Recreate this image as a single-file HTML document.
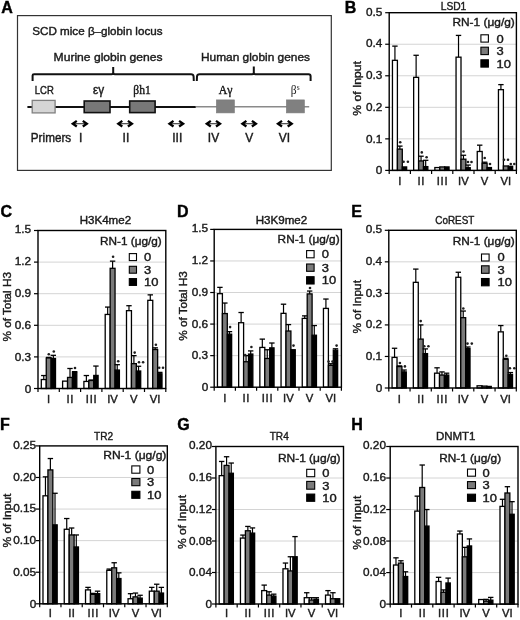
<!DOCTYPE html>
<html><head><meta charset="utf-8"><style>
html,body{margin:0;padding:0;background:#fff;}
svg{display:block;will-change:transform;}
</style></head><body>
<svg width="520" height="620" viewBox="0 0 520 620">
<rect width="520" height="620" fill="#fff"/>
<text x="1.30" y="13.20" font-size="16" text-anchor="start" font-family='"Liberation Sans", sans-serif' font-weight="bold" fill="#000" stroke="#000" stroke-width="0.4" >A</text>
<rect x="17.5" y="15.6" width="313.8" height="154.8" fill="none" stroke="#333" stroke-width="1.2"/>
<text x="32.30" y="35.20" font-size="11" text-anchor="start" font-family='"Liberation Sans", sans-serif' font-weight="normal" fill="#1a1a1a" stroke="#1a1a1a" stroke-width="0.4" textLength="130.2" lengthAdjust="spacingAndGlyphs">SCD mice &#946;&#8211;globin locus</text>
<text x="53.60" y="61.30" font-size="11" text-anchor="start" font-family='"Liberation Sans", sans-serif' font-weight="normal" fill="#1a1a1a" stroke="#1a1a1a" stroke-width="0.4" textLength="109" lengthAdjust="spacingAndGlyphs">Murine globin genes</text>
<text x="201.00" y="61.30" font-size="11" text-anchor="start" font-family='"Liberation Sans", sans-serif' font-weight="normal" fill="#1a1a1a" stroke="#1a1a1a" stroke-width="0.4" textLength="109" lengthAdjust="spacingAndGlyphs">Human globin genes</text>
<path d="M32.6 81 V75.5 Q32.6 74.2 34 74.2 H111.6 Q113.2 74.2 113.2 72.6 V67 M113.2 72.6 Q113.2 74.2 114.8 74.2 H191 Q193.4 74.2 193.6 76.5 L193.8 81" fill="none" stroke="#111" stroke-width="2"/>
<path d="M196.8 81 L197 76.5 Q197.2 74.2 199.6 74.2 H252.2 Q253.8 74.2 253.8 72.6 V66.5 M253.8 72.6 Q253.8 74.2 255.4 74.2 H308.6 Q310.6 74.2 310.6 76.2 V81" fill="none" stroke="#111" stroke-width="2"/>
<line x1="27.40" y1="107.00" x2="195.80" y2="107.00" stroke="#111" stroke-width="2"/>
<line x1="195.80" y1="106.80" x2="309.20" y2="106.80" stroke="#8a8a8a" stroke-width="1.6"/>
<rect x="32.20" y="100.40" width="22.90" height="12.50" fill="#d5d5d5" stroke="#808080" stroke-width="1.3"/>
<rect x="84.20" y="101.00" width="25.80" height="11.60" fill="#787878" stroke="#111" stroke-width="1.6"/>
<rect x="129.70" y="101.00" width="25.40" height="11.60" fill="#787878" stroke="#111" stroke-width="1.6"/>
<rect x="216.40" y="99.90" width="18.00" height="13.00" fill="#808080" stroke="#7a7a7a" stroke-width="0.6"/>
<rect x="286.40" y="99.90" width="18.00" height="13.00" fill="#808080" stroke="#7a7a7a" stroke-width="0.6"/>
<text x="34.80" y="94.20" font-size="10.5" text-anchor="start" font-family='"Liberation Sans", sans-serif' font-weight="normal" fill="#1a1a1a" stroke="#1a1a1a" stroke-width="0.4" textLength="19" lengthAdjust="spacingAndGlyphs">LCR</text>
<text x="98.70" y="94.40" font-size="12" text-anchor="middle" font-family='"Liberation Sans", sans-serif' font-weight="normal" fill="#1a1a1a" stroke="#1a1a1a" stroke-width="0.4" textLength="11.2" lengthAdjust="spacingAndGlyphs">&#949;&#947;</text>
<text x="142.00" y="94.00" font-size="11.5" text-anchor="middle" font-family='"Liberation Serif", serif' font-weight="normal" fill="#1a1a1a" stroke="#1a1a1a" stroke-width="0.4" >&#946;h1</text>
<text x="225.50" y="93.50" font-size="11.8" text-anchor="middle" font-family='"Liberation Serif", serif' font-weight="normal" fill="#1a1a1a" stroke="#1a1a1a" stroke-width="0.4" >A&#947;</text>
<text x="290.8" y="93.6" font-size="11.5" font-family='"Liberation Serif", serif' fill="#1a1a1a">&#946;<tspan font-size="7.5" dy="-3.8">s</tspan></text>
<path d="M73.3 123.7 H86.3" stroke="#333" stroke-width="1.1" fill="none"/>
<path d="M76.8 120.9 L72.8 123.7 L76.8 126.5 M82.8 120.9 L86.8 123.7 L82.8 126.5" stroke="#000" stroke-width="2.3" fill="none" stroke-linejoin="miter" stroke-miterlimit="6"/>
<path d="M118.8 123.7 H131.4" stroke="#333" stroke-width="1.1" fill="none"/>
<path d="M122.3 120.9 L118.3 123.7 L122.3 126.5 M127.9 120.9 L131.9 123.7 L127.9 126.5" stroke="#000" stroke-width="2.3" fill="none" stroke-linejoin="miter" stroke-miterlimit="6"/>
<path d="M170.0 123.7 H182.6" stroke="#333" stroke-width="1.1" fill="none"/>
<path d="M173.5 120.9 L169.5 123.7 L173.5 126.5 M179.1 120.9 L183.1 123.7 L179.1 126.5" stroke="#000" stroke-width="2.3" fill="none" stroke-linejoin="miter" stroke-miterlimit="6"/>
<path d="M207.3 123.7 H219.5" stroke="#333" stroke-width="1.1" fill="none"/>
<path d="M210.8 120.9 L206.8 123.7 L210.8 126.5 M216.0 120.9 L220.0 123.7 L216.0 126.5" stroke="#000" stroke-width="2.3" fill="none" stroke-linejoin="miter" stroke-miterlimit="6"/>
<path d="M242.9 123.7 H255.4" stroke="#333" stroke-width="1.1" fill="none"/>
<path d="M246.4 120.9 L242.4 123.7 L246.4 126.5 M251.9 120.9 L255.9 123.7 L251.9 126.5" stroke="#000" stroke-width="2.3" fill="none" stroke-linejoin="miter" stroke-miterlimit="6"/>
<path d="M278.5 123.7 H291.2" stroke="#333" stroke-width="1.1" fill="none"/>
<path d="M282.0 120.9 L278.0 123.7 L282.0 126.5 M287.7 120.9 L291.7 123.7 L287.7 126.5" stroke="#000" stroke-width="2.3" fill="none" stroke-linejoin="miter" stroke-miterlimit="6"/>
<text x="30.80" y="141.70" font-size="12.2" text-anchor="start" font-family='"Liberation Sans", sans-serif' font-weight="normal" fill="#1a1a1a" stroke="#1a1a1a" stroke-width="0.4" textLength="40.4" lengthAdjust="spacingAndGlyphs">Primers</text>
<text x="80.60" y="141.80" font-size="12" text-anchor="middle" font-family='"Liberation Sans", sans-serif' font-weight="normal" fill="#1a1a1a" stroke="#1a1a1a" stroke-width="0.4" >I</text>
<text x="125.90" y="141.80" font-size="12" text-anchor="middle" font-family='"Liberation Sans", sans-serif' font-weight="normal" fill="#1a1a1a" stroke="#1a1a1a" stroke-width="0.4" >II</text>
<text x="177.30" y="141.80" font-size="12" text-anchor="middle" font-family='"Liberation Sans", sans-serif' font-weight="normal" fill="#1a1a1a" stroke="#1a1a1a" stroke-width="0.4" >III</text>
<text x="213.50" y="141.80" font-size="12" text-anchor="middle" font-family='"Liberation Sans", sans-serif' font-weight="normal" fill="#1a1a1a" stroke="#1a1a1a" stroke-width="0.4" >IV</text>
<text x="249.30" y="141.80" font-size="12" text-anchor="middle" font-family='"Liberation Sans", sans-serif' font-weight="normal" fill="#1a1a1a" stroke="#1a1a1a" stroke-width="0.4" >V</text>
<text x="284.30" y="141.80" font-size="12" text-anchor="middle" font-family='"Liberation Sans", sans-serif' font-weight="normal" fill="#1a1a1a" stroke="#1a1a1a" stroke-width="0.4" >VI</text>
<line x1="389.20" y1="138.86" x2="516.40" y2="138.86" stroke="#d4d4d4" stroke-width="1"/>
<line x1="389.20" y1="107.32" x2="516.40" y2="107.32" stroke="#d4d4d4" stroke-width="1"/>
<line x1="389.20" y1="75.78" x2="516.40" y2="75.78" stroke="#d4d4d4" stroke-width="1"/>
<line x1="389.20" y1="44.24" x2="516.40" y2="44.24" stroke="#d4d4d4" stroke-width="1"/>
<line x1="394.93" y1="46.13" x2="394.93" y2="60.33" stroke="#000" stroke-width="1.2"/>
<line x1="392.23" y1="46.13" x2="397.62" y2="46.13" stroke="#000" stroke-width="1.3"/>
<rect x="392.45" y="60.33" width="4.95" height="110.07" fill="#ffffff" stroke="#000" stroke-width="1.3"/>
<line x1="399.85" y1="146.11" x2="399.85" y2="149.11" stroke="#000" stroke-width="1.2"/>
<line x1="397.15" y1="146.11" x2="402.55" y2="146.11" stroke="#000" stroke-width="1.3"/>
<rect x="397.40" y="149.11" width="4.90" height="21.29" fill="#7a7a7a" stroke="#000" stroke-width="1.3"/>
<rect x="402.30" y="166.93" width="4.35" height="3.47" fill="#000000" stroke="#000" stroke-width="1.3"/>
<line x1="416.12" y1="55.28" x2="416.12" y2="77.36" stroke="#000" stroke-width="1.2"/>
<line x1="413.43" y1="55.28" x2="418.82" y2="55.28" stroke="#000" stroke-width="1.3"/>
<rect x="413.65" y="77.36" width="4.95" height="93.04" fill="#ffffff" stroke="#000" stroke-width="1.3"/>
<line x1="421.05" y1="156.21" x2="421.05" y2="160.94" stroke="#000" stroke-width="1.2"/>
<line x1="418.35" y1="156.21" x2="423.75" y2="156.21" stroke="#000" stroke-width="1.3"/>
<rect x="418.60" y="160.94" width="4.90" height="9.46" fill="#7a7a7a" stroke="#000" stroke-width="1.3"/>
<line x1="425.68" y1="160.31" x2="425.68" y2="166.62" stroke="#000" stroke-width="1.2"/>
<line x1="422.98" y1="160.31" x2="428.38" y2="160.31" stroke="#000" stroke-width="1.3"/>
<rect x="423.50" y="166.62" width="4.35" height="3.78" fill="#000000" stroke="#000" stroke-width="1.3"/>
<rect x="434.85" y="167.56" width="4.95" height="2.84" fill="#ffffff" stroke="#000" stroke-width="1.3"/>
<rect x="439.80" y="166.93" width="4.90" height="3.47" fill="#7a7a7a" stroke="#000" stroke-width="1.3"/>
<rect x="444.70" y="166.93" width="4.35" height="3.47" fill="#000000" stroke="#000" stroke-width="1.3"/>
<line x1="458.52" y1="35.41" x2="458.52" y2="57.17" stroke="#000" stroke-width="1.2"/>
<line x1="455.82" y1="35.41" x2="461.22" y2="35.41" stroke="#000" stroke-width="1.3"/>
<rect x="456.05" y="57.17" width="4.95" height="113.23" fill="#ffffff" stroke="#000" stroke-width="1.3"/>
<line x1="463.45" y1="155.26" x2="463.45" y2="159.20" stroke="#000" stroke-width="1.2"/>
<line x1="460.75" y1="155.26" x2="466.15" y2="155.26" stroke="#000" stroke-width="1.3"/>
<rect x="461.00" y="159.20" width="4.90" height="11.20" fill="#7a7a7a" stroke="#000" stroke-width="1.3"/>
<line x1="468.07" y1="165.04" x2="468.07" y2="167.69" stroke="#000" stroke-width="1.2"/>
<line x1="465.38" y1="165.04" x2="470.77" y2="165.04" stroke="#000" stroke-width="1.3"/>
<rect x="465.90" y="167.69" width="4.35" height="2.71" fill="#000000" stroke="#000" stroke-width="1.3"/>
<line x1="479.72" y1="145.17" x2="479.72" y2="151.48" stroke="#000" stroke-width="1.2"/>
<line x1="477.02" y1="145.17" x2="482.42" y2="145.17" stroke="#000" stroke-width="1.3"/>
<rect x="477.25" y="151.48" width="4.95" height="18.92" fill="#ffffff" stroke="#000" stroke-width="1.3"/>
<line x1="484.65" y1="162.20" x2="484.65" y2="163.30" stroke="#000" stroke-width="1.2"/>
<line x1="481.95" y1="162.20" x2="487.35" y2="162.20" stroke="#000" stroke-width="1.3"/>
<rect x="482.20" y="163.30" width="4.90" height="7.10" fill="#7a7a7a" stroke="#000" stroke-width="1.3"/>
<rect x="487.10" y="167.56" width="4.35" height="2.84" fill="#000000" stroke="#000" stroke-width="1.3"/>
<line x1="500.92" y1="84.61" x2="500.92" y2="89.66" stroke="#000" stroke-width="1.2"/>
<line x1="498.22" y1="84.61" x2="503.62" y2="84.61" stroke="#000" stroke-width="1.3"/>
<rect x="498.45" y="89.66" width="4.95" height="80.74" fill="#ffffff" stroke="#000" stroke-width="1.3"/>
<rect x="503.40" y="165.98" width="4.90" height="4.42" fill="#7a7a7a" stroke="#000" stroke-width="1.3"/>
<rect x="508.30" y="166.30" width="4.35" height="4.10" fill="#000000" stroke="#000" stroke-width="1.3"/>
<circle cx="400.20" cy="142.30" r="1.3" fill="#1e1e1e"/>
<circle cx="403.60" cy="161.80" r="1.3" fill="#1e1e1e"/>
<circle cx="407.90" cy="161.80" r="1.3" fill="#1e1e1e"/>
<circle cx="421.80" cy="152.40" r="1.3" fill="#1e1e1e"/>
<circle cx="426.60" cy="157.20" r="1.3" fill="#1e1e1e"/>
<circle cx="463.50" cy="151.50" r="1.3" fill="#1e1e1e"/>
<circle cx="468.00" cy="162.00" r="1.3" fill="#1e1e1e"/>
<circle cx="471.50" cy="162.00" r="1.3" fill="#1e1e1e"/>
<circle cx="484.70" cy="158.00" r="1.3" fill="#1e1e1e"/>
<circle cx="490.00" cy="164.00" r="1.3" fill="#1e1e1e"/>
<circle cx="504.00" cy="159.70" r="1.3" fill="#1e1e1e"/>
<circle cx="508.00" cy="159.70" r="1.3" fill="#1e1e1e"/>
<circle cx="510.80" cy="164.00" r="1.3" fill="#1e1e1e"/>
<circle cx="514.30" cy="164.00" r="1.3" fill="#1e1e1e"/>
<rect x="389.20" y="12.70" width="127.20" height="157.70" fill="none" stroke="#000" stroke-width="1.4"/>
<line x1="385.20" y1="170.40" x2="389.20" y2="170.40" stroke="#000" stroke-width="1.2"/>
<text x="382.30" y="174.40" font-size="11.8" text-anchor="end" font-family='"Liberation Sans", sans-serif' font-weight="normal" fill="#1a1a1a" stroke="#1a1a1a" stroke-width="0.4" >0</text>
<line x1="385.20" y1="138.86" x2="389.20" y2="138.86" stroke="#000" stroke-width="1.2"/>
<text x="382.30" y="142.62" font-size="11.8" text-anchor="end" font-family='"Liberation Sans", sans-serif' font-weight="normal" fill="#1a1a1a" stroke="#1a1a1a" stroke-width="0.4" >0.1</text>
<line x1="385.20" y1="107.32" x2="389.20" y2="107.32" stroke="#000" stroke-width="1.2"/>
<text x="382.30" y="110.84" font-size="11.8" text-anchor="end" font-family='"Liberation Sans", sans-serif' font-weight="normal" fill="#1a1a1a" stroke="#1a1a1a" stroke-width="0.4" >0.2</text>
<line x1="385.20" y1="75.78" x2="389.20" y2="75.78" stroke="#000" stroke-width="1.2"/>
<text x="382.30" y="79.06" font-size="11.8" text-anchor="end" font-family='"Liberation Sans", sans-serif' font-weight="normal" fill="#1a1a1a" stroke="#1a1a1a" stroke-width="0.4" >0.3</text>
<line x1="385.20" y1="44.24" x2="389.20" y2="44.24" stroke="#000" stroke-width="1.2"/>
<text x="382.30" y="47.28" font-size="11.8" text-anchor="end" font-family='"Liberation Sans", sans-serif' font-weight="normal" fill="#1a1a1a" stroke="#1a1a1a" stroke-width="0.4" >0.4</text>
<line x1="385.20" y1="12.70" x2="389.20" y2="12.70" stroke="#000" stroke-width="1.2"/>
<text x="382.30" y="15.50" font-size="11.8" text-anchor="end" font-family='"Liberation Sans", sans-serif' font-weight="normal" fill="#1a1a1a" stroke="#1a1a1a" stroke-width="0.4" >0.5</text>
<line x1="389.20" y1="170.40" x2="389.20" y2="173.90" stroke="#000" stroke-width="1.2"/>
<line x1="410.40" y1="170.40" x2="410.40" y2="173.90" stroke="#000" stroke-width="1.2"/>
<line x1="431.60" y1="170.40" x2="431.60" y2="173.90" stroke="#000" stroke-width="1.2"/>
<line x1="452.80" y1="170.40" x2="452.80" y2="173.90" stroke="#000" stroke-width="1.2"/>
<line x1="474.00" y1="170.40" x2="474.00" y2="173.90" stroke="#000" stroke-width="1.2"/>
<line x1="495.20" y1="170.40" x2="495.20" y2="173.90" stroke="#000" stroke-width="1.2"/>
<line x1="516.40" y1="170.40" x2="516.40" y2="173.90" stroke="#000" stroke-width="1.2"/>
<text x="399.80" y="184.80" font-size="11.3" text-anchor="middle" font-family='"Liberation Sans", sans-serif' font-weight="normal" fill="#1a1a1a" stroke="#1a1a1a" stroke-width="0.4" >I</text>
<text x="421.25" y="184.80" font-size="11.3" text-anchor="middle" font-family='"Liberation Sans", sans-serif' font-weight="normal" fill="#1a1a1a" stroke="#1a1a1a" stroke-width="0.4" letter-spacing="0.5">II</text>
<text x="442.55" y="184.80" font-size="11.3" text-anchor="middle" font-family='"Liberation Sans", sans-serif' font-weight="normal" fill="#1a1a1a" stroke="#1a1a1a" stroke-width="0.4" letter-spacing="0.7">III</text>
<text x="463.40" y="184.80" font-size="11.3" text-anchor="middle" font-family='"Liberation Sans", sans-serif' font-weight="normal" fill="#1a1a1a" stroke="#1a1a1a" stroke-width="0.4" >IV</text>
<text x="484.60" y="184.80" font-size="11.3" text-anchor="middle" font-family='"Liberation Sans", sans-serif' font-weight="normal" fill="#1a1a1a" stroke="#1a1a1a" stroke-width="0.4" >V</text>
<text x="505.80" y="184.80" font-size="11.3" text-anchor="middle" font-family='"Liberation Sans", sans-serif' font-weight="normal" fill="#1a1a1a" stroke="#1a1a1a" stroke-width="0.4" >VI</text>
<text x="453.50" y="10.20" font-size="11" text-anchor="middle" font-family='"Liberation Sans", sans-serif' font-weight="normal" fill="#1a1a1a" stroke="#1a1a1a" stroke-width="0.4" textLength="25.6" lengthAdjust="spacingAndGlyphs">LSD1</text>
<text x="514.80" y="26.00" font-size="11" text-anchor="end" font-family='"Liberation Sans", sans-serif' font-weight="normal" fill="#1a1a1a" stroke="#1a1a1a" stroke-width="0.4" textLength="62.4" lengthAdjust="spacingAndGlyphs">RN-1 (&#956;g/g)</text>
<rect x="480.90" y="34.80" width="7.50" height="7.30" fill="#ffffff" stroke="#000" stroke-width="1.1"/>
<text x="496.60" y="42.50" font-size="11.6" text-anchor="start" font-family='"Liberation Sans", sans-serif' font-weight="normal" fill="#1a1a1a" stroke="#1a1a1a" stroke-width="0.4" textLength="7.2" lengthAdjust="spacingAndGlyphs">0</text>
<rect x="480.90" y="47.20" width="7.50" height="7.40" fill="#7a7a7a" stroke="#000" stroke-width="1.1"/>
<text x="496.60" y="55.00" font-size="11.6" text-anchor="start" font-family='"Liberation Sans", sans-serif' font-weight="normal" fill="#1a1a1a" stroke="#1a1a1a" stroke-width="0.4" textLength="7.2" lengthAdjust="spacingAndGlyphs">3</text>
<rect x="480.90" y="59.80" width="7.50" height="7.30" fill="#000000" stroke="#000" stroke-width="1.1"/>
<text x="496.60" y="67.50" font-size="11.6" text-anchor="start" font-family='"Liberation Sans", sans-serif' font-weight="normal" fill="#1a1a1a" stroke="#1a1a1a" stroke-width="0.4" textLength="14.4" lengthAdjust="spacingAndGlyphs">10</text>
<text x="344.70" y="13.20" font-size="16" text-anchor="start" font-family='"Liberation Sans", sans-serif' font-weight="bold" fill="#000" stroke="#000" stroke-width="0.4" >B</text>
<text x="361.00" y="88.40" font-size="11" text-anchor="middle" font-family='"Liberation Sans", sans-serif' font-weight="normal" fill="#1a1a1a" stroke="#1a1a1a" stroke-width="0.4" transform="rotate(-90 361.00 88.40)" textLength="54.5" lengthAdjust="spacingAndGlyphs">% of Input</text>
<line x1="38.00" y1="356.90" x2="165.80" y2="356.90" stroke="#d4d4d4" stroke-width="1"/>
<line x1="38.00" y1="325.30" x2="165.80" y2="325.30" stroke="#d4d4d4" stroke-width="1"/>
<line x1="38.00" y1="293.70" x2="165.80" y2="293.70" stroke="#d4d4d4" stroke-width="1"/>
<line x1="38.00" y1="262.10" x2="165.80" y2="262.10" stroke="#d4d4d4" stroke-width="1"/>
<line x1="43.77" y1="375.54" x2="43.77" y2="379.55" stroke="#000" stroke-width="1.2"/>
<line x1="41.07" y1="375.54" x2="46.48" y2="375.54" stroke="#000" stroke-width="1.3"/>
<rect x="41.30" y="379.55" width="4.95" height="8.95" fill="#ffffff" stroke="#000" stroke-width="1.3"/>
<line x1="48.70" y1="357.43" x2="48.70" y2="357.95" stroke="#000" stroke-width="1.2"/>
<line x1="46.00" y1="357.43" x2="51.40" y2="357.43" stroke="#000" stroke-width="1.3"/>
<rect x="46.25" y="357.95" width="4.90" height="30.55" fill="#7a7a7a" stroke="#000" stroke-width="1.3"/>
<line x1="53.32" y1="355.32" x2="53.32" y2="358.48" stroke="#000" stroke-width="1.2"/>
<line x1="50.62" y1="355.32" x2="56.02" y2="355.32" stroke="#000" stroke-width="1.3"/>
<rect x="51.15" y="358.48" width="4.35" height="30.02" fill="#000000" stroke="#000" stroke-width="1.3"/>
<rect x="62.60" y="381.13" width="4.95" height="7.37" fill="#ffffff" stroke="#000" stroke-width="1.3"/>
<line x1="70.00" y1="368.49" x2="70.00" y2="377.44" stroke="#000" stroke-width="1.2"/>
<line x1="67.30" y1="368.49" x2="72.70" y2="368.49" stroke="#000" stroke-width="1.3"/>
<rect x="67.55" y="377.44" width="4.90" height="11.06" fill="#7a7a7a" stroke="#000" stroke-width="1.3"/>
<line x1="74.62" y1="371.65" x2="74.62" y2="372.38" stroke="#000" stroke-width="1.2"/>
<line x1="71.92" y1="371.65" x2="77.33" y2="371.65" stroke="#000" stroke-width="1.3"/>
<rect x="72.45" y="372.38" width="4.35" height="16.12" fill="#000000" stroke="#000" stroke-width="1.3"/>
<line x1="86.38" y1="375.54" x2="86.38" y2="381.44" stroke="#000" stroke-width="1.2"/>
<line x1="83.67" y1="375.54" x2="89.08" y2="375.54" stroke="#000" stroke-width="1.3"/>
<rect x="83.90" y="381.44" width="4.95" height="7.06" fill="#ffffff" stroke="#000" stroke-width="1.3"/>
<line x1="91.30" y1="380.07" x2="91.30" y2="380.49" stroke="#000" stroke-width="1.2"/>
<line x1="88.60" y1="380.07" x2="94.00" y2="380.07" stroke="#000" stroke-width="1.3"/>
<rect x="88.85" y="380.49" width="4.90" height="8.01" fill="#7a7a7a" stroke="#000" stroke-width="1.3"/>
<line x1="95.92" y1="366.06" x2="95.92" y2="375.44" stroke="#000" stroke-width="1.2"/>
<line x1="93.22" y1="366.06" x2="98.62" y2="366.06" stroke="#000" stroke-width="1.3"/>
<rect x="93.75" y="375.44" width="4.35" height="13.06" fill="#000000" stroke="#000" stroke-width="1.3"/>
<line x1="107.67" y1="307.08" x2="107.67" y2="314.45" stroke="#000" stroke-width="1.2"/>
<line x1="104.97" y1="307.08" x2="110.38" y2="307.08" stroke="#000" stroke-width="1.3"/>
<rect x="105.20" y="314.45" width="4.95" height="74.05" fill="#ffffff" stroke="#000" stroke-width="1.3"/>
<line x1="112.60" y1="261.15" x2="112.60" y2="268.31" stroke="#000" stroke-width="1.2"/>
<line x1="109.90" y1="261.15" x2="115.30" y2="261.15" stroke="#000" stroke-width="1.3"/>
<rect x="110.15" y="268.31" width="4.90" height="120.19" fill="#7a7a7a" stroke="#000" stroke-width="1.3"/>
<line x1="117.22" y1="364.69" x2="117.22" y2="370.07" stroke="#000" stroke-width="1.2"/>
<line x1="114.52" y1="364.69" x2="119.92" y2="364.69" stroke="#000" stroke-width="1.3"/>
<rect x="115.05" y="370.07" width="4.35" height="18.43" fill="#000000" stroke="#000" stroke-width="1.3"/>
<line x1="128.98" y1="305.71" x2="128.98" y2="310.66" stroke="#000" stroke-width="1.2"/>
<line x1="126.28" y1="305.71" x2="131.68" y2="305.71" stroke="#000" stroke-width="1.3"/>
<rect x="126.50" y="310.66" width="4.95" height="77.84" fill="#ffffff" stroke="#000" stroke-width="1.3"/>
<line x1="133.90" y1="355.64" x2="133.90" y2="363.64" stroke="#000" stroke-width="1.2"/>
<line x1="131.20" y1="355.64" x2="136.60" y2="355.64" stroke="#000" stroke-width="1.3"/>
<rect x="131.45" y="363.64" width="4.90" height="24.86" fill="#7a7a7a" stroke="#000" stroke-width="1.3"/>
<line x1="138.53" y1="366.27" x2="138.53" y2="371.01" stroke="#000" stroke-width="1.2"/>
<line x1="135.83" y1="366.27" x2="141.23" y2="366.27" stroke="#000" stroke-width="1.3"/>
<rect x="136.35" y="371.01" width="4.35" height="17.49" fill="#000000" stroke="#000" stroke-width="1.3"/>
<line x1="150.28" y1="294.86" x2="150.28" y2="300.34" stroke="#000" stroke-width="1.2"/>
<line x1="147.58" y1="294.86" x2="152.97" y2="294.86" stroke="#000" stroke-width="1.3"/>
<rect x="147.80" y="300.34" width="4.95" height="88.16" fill="#ffffff" stroke="#000" stroke-width="1.3"/>
<line x1="155.20" y1="347.84" x2="155.20" y2="349.53" stroke="#000" stroke-width="1.2"/>
<line x1="152.50" y1="347.84" x2="157.90" y2="347.84" stroke="#000" stroke-width="1.3"/>
<rect x="152.75" y="349.53" width="4.90" height="38.97" fill="#7a7a7a" stroke="#000" stroke-width="1.3"/>
<line x1="159.83" y1="372.38" x2="159.83" y2="373.75" stroke="#000" stroke-width="1.2"/>
<line x1="157.13" y1="372.38" x2="162.53" y2="372.38" stroke="#000" stroke-width="1.3"/>
<rect x="157.65" y="373.75" width="4.35" height="14.75" fill="#000000" stroke="#000" stroke-width="1.3"/>
<circle cx="48.80" cy="354.20" r="1.3" fill="#1e1e1e"/>
<circle cx="53.80" cy="351.50" r="1.3" fill="#1e1e1e"/>
<circle cx="75.00" cy="368.00" r="1.3" fill="#1e1e1e"/>
<circle cx="113.10" cy="256.80" r="1.3" fill="#1e1e1e"/>
<circle cx="118.20" cy="361.20" r="1.3" fill="#1e1e1e"/>
<circle cx="134.70" cy="352.60" r="1.3" fill="#1e1e1e"/>
<circle cx="139.00" cy="362.30" r="1.3" fill="#1e1e1e"/>
<circle cx="143.10" cy="362.30" r="1.3" fill="#1e1e1e"/>
<circle cx="155.90" cy="344.80" r="1.3" fill="#1e1e1e"/>
<circle cx="159.20" cy="367.70" r="1.3" fill="#1e1e1e"/>
<circle cx="163.00" cy="367.70" r="1.3" fill="#1e1e1e"/>
<rect x="38.00" y="230.50" width="127.80" height="158.00" fill="none" stroke="#000" stroke-width="1.4"/>
<line x1="34.00" y1="388.50" x2="38.00" y2="388.50" stroke="#000" stroke-width="1.2"/>
<text x="31.20" y="392.50" font-size="11.8" text-anchor="end" font-family='"Liberation Sans", sans-serif' font-weight="normal" fill="#1a1a1a" stroke="#1a1a1a" stroke-width="0.4" >0</text>
<line x1="34.00" y1="356.90" x2="38.00" y2="356.90" stroke="#000" stroke-width="1.2"/>
<text x="31.20" y="360.66" font-size="11.8" text-anchor="end" font-family='"Liberation Sans", sans-serif' font-weight="normal" fill="#1a1a1a" stroke="#1a1a1a" stroke-width="0.4" >0.3</text>
<line x1="34.00" y1="325.30" x2="38.00" y2="325.30" stroke="#000" stroke-width="1.2"/>
<text x="31.20" y="328.82" font-size="11.8" text-anchor="end" font-family='"Liberation Sans", sans-serif' font-weight="normal" fill="#1a1a1a" stroke="#1a1a1a" stroke-width="0.4" >0.6</text>
<line x1="34.00" y1="293.70" x2="38.00" y2="293.70" stroke="#000" stroke-width="1.2"/>
<text x="31.20" y="296.98" font-size="11.8" text-anchor="end" font-family='"Liberation Sans", sans-serif' font-weight="normal" fill="#1a1a1a" stroke="#1a1a1a" stroke-width="0.4" >0.9</text>
<line x1="34.00" y1="262.10" x2="38.00" y2="262.10" stroke="#000" stroke-width="1.2"/>
<text x="31.20" y="265.14" font-size="11.8" text-anchor="end" font-family='"Liberation Sans", sans-serif' font-weight="normal" fill="#1a1a1a" stroke="#1a1a1a" stroke-width="0.4" >1.2</text>
<line x1="34.00" y1="230.50" x2="38.00" y2="230.50" stroke="#000" stroke-width="1.2"/>
<text x="31.20" y="233.30" font-size="11.8" text-anchor="end" font-family='"Liberation Sans", sans-serif' font-weight="normal" fill="#1a1a1a" stroke="#1a1a1a" stroke-width="0.4" >1.5</text>
<line x1="38.00" y1="388.50" x2="38.00" y2="392.00" stroke="#000" stroke-width="1.2"/>
<line x1="59.30" y1="388.50" x2="59.30" y2="392.00" stroke="#000" stroke-width="1.2"/>
<line x1="80.60" y1="388.50" x2="80.60" y2="392.00" stroke="#000" stroke-width="1.2"/>
<line x1="101.90" y1="388.50" x2="101.90" y2="392.00" stroke="#000" stroke-width="1.2"/>
<line x1="123.20" y1="388.50" x2="123.20" y2="392.00" stroke="#000" stroke-width="1.2"/>
<line x1="144.50" y1="388.50" x2="144.50" y2="392.00" stroke="#000" stroke-width="1.2"/>
<line x1="165.80" y1="388.50" x2="165.80" y2="392.00" stroke="#000" stroke-width="1.2"/>
<text x="48.65" y="402.80" font-size="11.3" text-anchor="middle" font-family='"Liberation Sans", sans-serif' font-weight="normal" fill="#1a1a1a" stroke="#1a1a1a" stroke-width="0.4" >I</text>
<text x="70.20" y="402.80" font-size="11.3" text-anchor="middle" font-family='"Liberation Sans", sans-serif' font-weight="normal" fill="#1a1a1a" stroke="#1a1a1a" stroke-width="0.4" letter-spacing="0.5">II</text>
<text x="91.60" y="402.80" font-size="11.3" text-anchor="middle" font-family='"Liberation Sans", sans-serif' font-weight="normal" fill="#1a1a1a" stroke="#1a1a1a" stroke-width="0.4" letter-spacing="0.7">III</text>
<text x="112.55" y="402.80" font-size="11.3" text-anchor="middle" font-family='"Liberation Sans", sans-serif' font-weight="normal" fill="#1a1a1a" stroke="#1a1a1a" stroke-width="0.4" >IV</text>
<text x="133.85" y="402.80" font-size="11.3" text-anchor="middle" font-family='"Liberation Sans", sans-serif' font-weight="normal" fill="#1a1a1a" stroke="#1a1a1a" stroke-width="0.4" >V</text>
<text x="155.15" y="402.80" font-size="11.3" text-anchor="middle" font-family='"Liberation Sans", sans-serif' font-weight="normal" fill="#1a1a1a" stroke="#1a1a1a" stroke-width="0.4" >VI</text>
<text x="105.40" y="223.60" font-size="11" text-anchor="middle" font-family='"Liberation Sans", sans-serif' font-weight="normal" fill="#1a1a1a" stroke="#1a1a1a" stroke-width="0.4" textLength="51.4" lengthAdjust="spacingAndGlyphs">H3K4me2</text>
<text x="161.80" y="245.20" font-size="11" text-anchor="end" font-family='"Liberation Sans", sans-serif' font-weight="normal" fill="#1a1a1a" stroke="#1a1a1a" stroke-width="0.4" textLength="61.7" lengthAdjust="spacingAndGlyphs">RN-1 (&#956;g/g)</text>
<rect x="129.30" y="253.60" width="7.20" height="7.00" fill="#ffffff" stroke="#000" stroke-width="1.1"/>
<text x="144.00" y="261.00" font-size="11.6" text-anchor="start" font-family='"Liberation Sans", sans-serif' font-weight="normal" fill="#1a1a1a" stroke="#1a1a1a" stroke-width="0.4" textLength="7.2" lengthAdjust="spacingAndGlyphs">0</text>
<rect x="129.30" y="266.30" width="7.20" height="6.90" fill="#7a7a7a" stroke="#000" stroke-width="1.1"/>
<text x="144.00" y="273.60" font-size="11.6" text-anchor="start" font-family='"Liberation Sans", sans-serif' font-weight="normal" fill="#1a1a1a" stroke="#1a1a1a" stroke-width="0.4" textLength="7.2" lengthAdjust="spacingAndGlyphs">3</text>
<rect x="129.30" y="278.60" width="7.20" height="6.80" fill="#000000" stroke="#000" stroke-width="1.1"/>
<text x="144.00" y="285.80" font-size="11.6" text-anchor="start" font-family='"Liberation Sans", sans-serif' font-weight="normal" fill="#1a1a1a" stroke="#1a1a1a" stroke-width="0.4" textLength="14.4" lengthAdjust="spacingAndGlyphs">10</text>
<text x="0.60" y="217.20" font-size="16" text-anchor="start" font-family='"Liberation Sans", sans-serif' font-weight="bold" fill="#000" stroke="#000" stroke-width="0.4" >C</text>
<text x="11.40" y="306.80" font-size="11" text-anchor="middle" font-family='"Liberation Sans", sans-serif' font-weight="normal" fill="#1a1a1a" stroke="#1a1a1a" stroke-width="0.4" transform="rotate(-90 11.40 306.80)" textLength="69.5" lengthAdjust="spacingAndGlyphs">% of Total H3</text>
<line x1="214.20" y1="355.64" x2="341.40" y2="355.64" stroke="#d4d4d4" stroke-width="1"/>
<line x1="214.20" y1="324.08" x2="341.40" y2="324.08" stroke="#d4d4d4" stroke-width="1"/>
<line x1="214.20" y1="292.52" x2="341.40" y2="292.52" stroke="#d4d4d4" stroke-width="1"/>
<line x1="214.20" y1="260.96" x2="341.40" y2="260.96" stroke="#d4d4d4" stroke-width="1"/>
<line x1="219.92" y1="287.37" x2="219.92" y2="293.68" stroke="#000" stroke-width="1.2"/>
<line x1="217.22" y1="287.37" x2="222.62" y2="287.37" stroke="#000" stroke-width="1.3"/>
<rect x="217.45" y="293.68" width="4.95" height="93.52" fill="#ffffff" stroke="#000" stroke-width="1.3"/>
<line x1="224.85" y1="303.04" x2="224.85" y2="313.56" stroke="#000" stroke-width="1.2"/>
<line x1="222.15" y1="303.04" x2="227.55" y2="303.04" stroke="#000" stroke-width="1.3"/>
<rect x="222.40" y="313.56" width="4.90" height="73.64" fill="#7a7a7a" stroke="#000" stroke-width="1.3"/>
<line x1="229.47" y1="331.65" x2="229.47" y2="334.18" stroke="#000" stroke-width="1.2"/>
<line x1="226.78" y1="331.65" x2="232.17" y2="331.65" stroke="#000" stroke-width="1.3"/>
<rect x="227.30" y="334.18" width="4.35" height="53.02" fill="#000000" stroke="#000" stroke-width="1.3"/>
<line x1="241.12" y1="312.51" x2="241.12" y2="322.71" stroke="#000" stroke-width="1.2"/>
<line x1="238.43" y1="312.51" x2="243.82" y2="312.51" stroke="#000" stroke-width="1.3"/>
<rect x="238.65" y="322.71" width="4.95" height="64.49" fill="#ffffff" stroke="#000" stroke-width="1.3"/>
<line x1="246.05" y1="355.64" x2="246.05" y2="361.74" stroke="#000" stroke-width="1.2"/>
<line x1="243.35" y1="355.64" x2="248.75" y2="355.64" stroke="#000" stroke-width="1.3"/>
<rect x="243.60" y="361.74" width="4.90" height="25.46" fill="#7a7a7a" stroke="#000" stroke-width="1.3"/>
<line x1="250.68" y1="350.91" x2="250.68" y2="354.06" stroke="#000" stroke-width="1.2"/>
<line x1="247.98" y1="350.91" x2="253.38" y2="350.91" stroke="#000" stroke-width="1.3"/>
<rect x="248.50" y="354.06" width="4.35" height="33.14" fill="#000000" stroke="#000" stroke-width="1.3"/>
<line x1="262.32" y1="339.12" x2="262.32" y2="347.43" stroke="#000" stroke-width="1.2"/>
<line x1="259.62" y1="339.12" x2="265.02" y2="339.12" stroke="#000" stroke-width="1.3"/>
<rect x="259.85" y="347.43" width="4.95" height="39.77" fill="#ffffff" stroke="#000" stroke-width="1.3"/>
<line x1="267.25" y1="349.75" x2="267.25" y2="358.48" stroke="#000" stroke-width="1.2"/>
<line x1="264.55" y1="349.75" x2="269.95" y2="349.75" stroke="#000" stroke-width="1.3"/>
<rect x="264.80" y="358.48" width="4.90" height="28.72" fill="#7a7a7a" stroke="#000" stroke-width="1.3"/>
<line x1="271.88" y1="343.02" x2="271.88" y2="347.86" stroke="#000" stroke-width="1.2"/>
<line x1="269.18" y1="343.02" x2="274.57" y2="343.02" stroke="#000" stroke-width="1.3"/>
<rect x="269.70" y="347.86" width="4.35" height="39.34" fill="#000000" stroke="#000" stroke-width="1.3"/>
<line x1="283.52" y1="304.20" x2="283.52" y2="313.35" stroke="#000" stroke-width="1.2"/>
<line x1="280.82" y1="304.20" x2="286.22" y2="304.20" stroke="#000" stroke-width="1.3"/>
<rect x="281.05" y="313.35" width="4.95" height="73.85" fill="#ffffff" stroke="#000" stroke-width="1.3"/>
<line x1="288.45" y1="324.61" x2="288.45" y2="331.02" stroke="#000" stroke-width="1.2"/>
<line x1="285.75" y1="324.61" x2="291.15" y2="324.61" stroke="#000" stroke-width="1.3"/>
<rect x="286.00" y="331.02" width="4.90" height="56.18" fill="#7a7a7a" stroke="#000" stroke-width="1.3"/>
<rect x="290.90" y="349.75" width="4.35" height="37.45" fill="#000000" stroke="#000" stroke-width="1.3"/>
<line x1="304.72" y1="315.87" x2="304.72" y2="318.40" stroke="#000" stroke-width="1.2"/>
<line x1="302.02" y1="315.87" x2="307.42" y2="315.87" stroke="#000" stroke-width="1.3"/>
<rect x="302.25" y="318.40" width="4.95" height="68.80" fill="#ffffff" stroke="#000" stroke-width="1.3"/>
<line x1="309.65" y1="291.05" x2="309.65" y2="293.89" stroke="#000" stroke-width="1.2"/>
<line x1="306.95" y1="291.05" x2="312.35" y2="291.05" stroke="#000" stroke-width="1.3"/>
<rect x="307.20" y="293.89" width="4.90" height="93.31" fill="#7a7a7a" stroke="#000" stroke-width="1.3"/>
<line x1="314.27" y1="325.55" x2="314.27" y2="335.23" stroke="#000" stroke-width="1.2"/>
<line x1="311.57" y1="325.55" x2="316.97" y2="325.55" stroke="#000" stroke-width="1.3"/>
<rect x="312.10" y="335.23" width="4.35" height="51.97" fill="#000000" stroke="#000" stroke-width="1.3"/>
<line x1="325.92" y1="299.04" x2="325.92" y2="308.41" stroke="#000" stroke-width="1.2"/>
<line x1="323.22" y1="299.04" x2="328.62" y2="299.04" stroke="#000" stroke-width="1.3"/>
<rect x="323.45" y="308.41" width="4.95" height="78.79" fill="#ffffff" stroke="#000" stroke-width="1.3"/>
<line x1="330.85" y1="363.74" x2="330.85" y2="365.32" stroke="#000" stroke-width="1.2"/>
<line x1="328.15" y1="363.74" x2="333.55" y2="363.74" stroke="#000" stroke-width="1.3"/>
<rect x="328.40" y="365.32" width="4.90" height="21.88" fill="#7a7a7a" stroke="#000" stroke-width="1.3"/>
<line x1="335.47" y1="348.80" x2="335.47" y2="350.17" stroke="#000" stroke-width="1.2"/>
<line x1="332.77" y1="348.80" x2="338.17" y2="348.80" stroke="#000" stroke-width="1.3"/>
<rect x="333.30" y="350.17" width="4.35" height="37.03" fill="#000000" stroke="#000" stroke-width="1.3"/>
<circle cx="230.10" cy="327.10" r="1.3" fill="#1e1e1e"/>
<circle cx="245.20" cy="355.00" r="1.3" fill="#1e1e1e"/>
<circle cx="251.40" cy="347.00" r="1.3" fill="#1e1e1e"/>
<circle cx="293.50" cy="345.60" r="1.3" fill="#1e1e1e"/>
<circle cx="310.00" cy="288.00" r="1.3" fill="#1e1e1e"/>
<circle cx="328.60" cy="361.60" r="1.3" fill="#1e1e1e"/>
<circle cx="332.50" cy="361.60" r="1.3" fill="#1e1e1e"/>
<circle cx="336.60" cy="345.60" r="1.3" fill="#1e1e1e"/>
<rect x="214.20" y="229.40" width="127.20" height="157.80" fill="none" stroke="#000" stroke-width="1.4"/>
<line x1="210.20" y1="387.20" x2="214.20" y2="387.20" stroke="#000" stroke-width="1.2"/>
<text x="208.20" y="391.20" font-size="11.8" text-anchor="end" font-family='"Liberation Sans", sans-serif' font-weight="normal" fill="#1a1a1a" stroke="#1a1a1a" stroke-width="0.4" >0</text>
<line x1="210.20" y1="355.64" x2="214.20" y2="355.64" stroke="#000" stroke-width="1.2"/>
<text x="208.20" y="359.40" font-size="11.8" text-anchor="end" font-family='"Liberation Sans", sans-serif' font-weight="normal" fill="#1a1a1a" stroke="#1a1a1a" stroke-width="0.4" >0.3</text>
<line x1="210.20" y1="324.08" x2="214.20" y2="324.08" stroke="#000" stroke-width="1.2"/>
<text x="208.20" y="327.60" font-size="11.8" text-anchor="end" font-family='"Liberation Sans", sans-serif' font-weight="normal" fill="#1a1a1a" stroke="#1a1a1a" stroke-width="0.4" >0.6</text>
<line x1="210.20" y1="292.52" x2="214.20" y2="292.52" stroke="#000" stroke-width="1.2"/>
<text x="208.20" y="295.80" font-size="11.8" text-anchor="end" font-family='"Liberation Sans", sans-serif' font-weight="normal" fill="#1a1a1a" stroke="#1a1a1a" stroke-width="0.4" >0.9</text>
<line x1="210.20" y1="260.96" x2="214.20" y2="260.96" stroke="#000" stroke-width="1.2"/>
<text x="208.20" y="264.00" font-size="11.8" text-anchor="end" font-family='"Liberation Sans", sans-serif' font-weight="normal" fill="#1a1a1a" stroke="#1a1a1a" stroke-width="0.4" >1.2</text>
<line x1="210.20" y1="229.40" x2="214.20" y2="229.40" stroke="#000" stroke-width="1.2"/>
<text x="208.20" y="232.20" font-size="11.8" text-anchor="end" font-family='"Liberation Sans", sans-serif' font-weight="normal" fill="#1a1a1a" stroke="#1a1a1a" stroke-width="0.4" >1.5</text>
<line x1="214.20" y1="387.20" x2="214.20" y2="390.70" stroke="#000" stroke-width="1.2"/>
<line x1="235.40" y1="387.20" x2="235.40" y2="390.70" stroke="#000" stroke-width="1.2"/>
<line x1="256.60" y1="387.20" x2="256.60" y2="390.70" stroke="#000" stroke-width="1.2"/>
<line x1="277.80" y1="387.20" x2="277.80" y2="390.70" stroke="#000" stroke-width="1.2"/>
<line x1="299.00" y1="387.20" x2="299.00" y2="390.70" stroke="#000" stroke-width="1.2"/>
<line x1="320.20" y1="387.20" x2="320.20" y2="390.70" stroke="#000" stroke-width="1.2"/>
<line x1="341.40" y1="387.20" x2="341.40" y2="390.70" stroke="#000" stroke-width="1.2"/>
<text x="224.80" y="401.80" font-size="11.3" text-anchor="middle" font-family='"Liberation Sans", sans-serif' font-weight="normal" fill="#1a1a1a" stroke="#1a1a1a" stroke-width="0.4" >I</text>
<text x="246.25" y="401.80" font-size="11.3" text-anchor="middle" font-family='"Liberation Sans", sans-serif' font-weight="normal" fill="#1a1a1a" stroke="#1a1a1a" stroke-width="0.4" letter-spacing="0.5">II</text>
<text x="267.55" y="401.80" font-size="11.3" text-anchor="middle" font-family='"Liberation Sans", sans-serif' font-weight="normal" fill="#1a1a1a" stroke="#1a1a1a" stroke-width="0.4" letter-spacing="0.7">III</text>
<text x="288.40" y="401.80" font-size="11.3" text-anchor="middle" font-family='"Liberation Sans", sans-serif' font-weight="normal" fill="#1a1a1a" stroke="#1a1a1a" stroke-width="0.4" >IV</text>
<text x="309.60" y="401.80" font-size="11.3" text-anchor="middle" font-family='"Liberation Sans", sans-serif' font-weight="normal" fill="#1a1a1a" stroke="#1a1a1a" stroke-width="0.4" >V</text>
<text x="330.80" y="401.80" font-size="11.3" text-anchor="middle" font-family='"Liberation Sans", sans-serif' font-weight="normal" fill="#1a1a1a" stroke="#1a1a1a" stroke-width="0.4" >VI</text>
<text x="281.50" y="223.60" font-size="11" text-anchor="middle" font-family='"Liberation Sans", sans-serif' font-weight="normal" fill="#1a1a1a" stroke="#1a1a1a" stroke-width="0.4" textLength="51.6" lengthAdjust="spacingAndGlyphs">H3K9me2</text>
<text x="339.60" y="243.40" font-size="11" text-anchor="end" font-family='"Liberation Sans", sans-serif' font-weight="normal" fill="#1a1a1a" stroke="#1a1a1a" stroke-width="0.4" textLength="62.0" lengthAdjust="spacingAndGlyphs">RN-1 (&#956;g/g)</text>
<rect x="306.60" y="250.60" width="7.50" height="7.20" fill="#ffffff" stroke="#000" stroke-width="1.1"/>
<text x="321.80" y="258.20" font-size="11.6" text-anchor="start" font-family='"Liberation Sans", sans-serif' font-weight="normal" fill="#1a1a1a" stroke="#1a1a1a" stroke-width="0.4" textLength="7.2" lengthAdjust="spacingAndGlyphs">0</text>
<rect x="306.60" y="264.00" width="7.50" height="7.30" fill="#7a7a7a" stroke="#000" stroke-width="1.1"/>
<text x="321.80" y="271.70" font-size="11.6" text-anchor="start" font-family='"Liberation Sans", sans-serif' font-weight="normal" fill="#1a1a1a" stroke="#1a1a1a" stroke-width="0.4" textLength="7.2" lengthAdjust="spacingAndGlyphs">3</text>
<rect x="306.60" y="276.70" width="7.50" height="7.30" fill="#000000" stroke="#000" stroke-width="1.1"/>
<text x="321.80" y="284.40" font-size="11.6" text-anchor="start" font-family='"Liberation Sans", sans-serif' font-weight="normal" fill="#1a1a1a" stroke="#1a1a1a" stroke-width="0.4" textLength="14.4" lengthAdjust="spacingAndGlyphs">10</text>
<text x="177.00" y="217.20" font-size="16" text-anchor="start" font-family='"Liberation Sans", sans-serif' font-weight="bold" fill="#000" stroke="#000" stroke-width="0.4" >D</text>
<text x="186.80" y="306.00" font-size="11" text-anchor="middle" font-family='"Liberation Sans", sans-serif' font-weight="normal" fill="#1a1a1a" stroke="#1a1a1a" stroke-width="0.4" transform="rotate(-90 186.80 306.00)" textLength="69.5" lengthAdjust="spacingAndGlyphs">% of Total H3</text>
<line x1="388.80" y1="356.46" x2="516.30" y2="356.46" stroke="#d4d4d4" stroke-width="1"/>
<line x1="388.80" y1="324.92" x2="516.30" y2="324.92" stroke="#d4d4d4" stroke-width="1"/>
<line x1="388.80" y1="293.38" x2="516.30" y2="293.38" stroke="#d4d4d4" stroke-width="1"/>
<line x1="388.80" y1="261.84" x2="516.30" y2="261.84" stroke="#d4d4d4" stroke-width="1"/>
<line x1="394.55" y1="348.26" x2="394.55" y2="357.41" stroke="#000" stroke-width="1.2"/>
<line x1="391.85" y1="348.26" x2="397.25" y2="348.26" stroke="#000" stroke-width="1.3"/>
<rect x="392.07" y="357.41" width="4.95" height="30.59" fill="#ffffff" stroke="#000" stroke-width="1.3"/>
<line x1="399.48" y1="365.92" x2="399.48" y2="366.55" stroke="#000" stroke-width="1.2"/>
<line x1="396.78" y1="365.92" x2="402.18" y2="365.92" stroke="#000" stroke-width="1.3"/>
<rect x="397.03" y="366.55" width="4.90" height="21.45" fill="#7a7a7a" stroke="#000" stroke-width="1.3"/>
<line x1="404.10" y1="370.02" x2="404.10" y2="371.91" stroke="#000" stroke-width="1.2"/>
<line x1="401.40" y1="370.02" x2="406.80" y2="370.02" stroke="#000" stroke-width="1.3"/>
<rect x="401.93" y="371.91" width="4.35" height="16.09" fill="#000000" stroke="#000" stroke-width="1.3"/>
<line x1="415.80" y1="269.09" x2="415.80" y2="282.34" stroke="#000" stroke-width="1.2"/>
<line x1="413.10" y1="269.09" x2="418.50" y2="269.09" stroke="#000" stroke-width="1.3"/>
<rect x="413.32" y="282.34" width="4.95" height="105.66" fill="#ffffff" stroke="#000" stroke-width="1.3"/>
<line x1="420.73" y1="324.92" x2="420.73" y2="339.11" stroke="#000" stroke-width="1.2"/>
<line x1="418.03" y1="324.92" x2="423.43" y2="324.92" stroke="#000" stroke-width="1.3"/>
<rect x="418.28" y="339.11" width="4.90" height="48.89" fill="#7a7a7a" stroke="#000" stroke-width="1.3"/>
<line x1="425.35" y1="348.89" x2="425.35" y2="353.62" stroke="#000" stroke-width="1.2"/>
<line x1="422.65" y1="348.89" x2="428.05" y2="348.89" stroke="#000" stroke-width="1.3"/>
<rect x="423.18" y="353.62" width="4.35" height="34.38" fill="#000000" stroke="#000" stroke-width="1.3"/>
<line x1="437.05" y1="367.81" x2="437.05" y2="373.18" stroke="#000" stroke-width="1.2"/>
<line x1="434.35" y1="367.81" x2="439.75" y2="367.81" stroke="#000" stroke-width="1.3"/>
<rect x="434.57" y="373.18" width="4.95" height="14.82" fill="#ffffff" stroke="#000" stroke-width="1.3"/>
<line x1="441.97" y1="371.91" x2="441.97" y2="375.07" stroke="#000" stroke-width="1.2"/>
<line x1="439.27" y1="371.91" x2="444.67" y2="371.91" stroke="#000" stroke-width="1.3"/>
<rect x="439.52" y="375.07" width="4.90" height="12.93" fill="#7a7a7a" stroke="#000" stroke-width="1.3"/>
<line x1="446.60" y1="373.18" x2="446.60" y2="375.07" stroke="#000" stroke-width="1.2"/>
<line x1="443.90" y1="373.18" x2="449.30" y2="373.18" stroke="#000" stroke-width="1.3"/>
<rect x="444.42" y="375.07" width="4.35" height="12.93" fill="#000000" stroke="#000" stroke-width="1.3"/>
<line x1="458.30" y1="272.25" x2="458.30" y2="277.29" stroke="#000" stroke-width="1.2"/>
<line x1="455.60" y1="272.25" x2="461.00" y2="272.25" stroke="#000" stroke-width="1.3"/>
<rect x="455.82" y="277.29" width="4.95" height="110.71" fill="#ffffff" stroke="#000" stroke-width="1.3"/>
<line x1="463.22" y1="311.04" x2="463.22" y2="317.67" stroke="#000" stroke-width="1.2"/>
<line x1="460.52" y1="311.04" x2="465.92" y2="311.04" stroke="#000" stroke-width="1.3"/>
<rect x="460.77" y="317.67" width="4.90" height="70.33" fill="#7a7a7a" stroke="#000" stroke-width="1.3"/>
<line x1="467.85" y1="347.00" x2="467.85" y2="348.57" stroke="#000" stroke-width="1.2"/>
<line x1="465.15" y1="347.00" x2="470.55" y2="347.00" stroke="#000" stroke-width="1.3"/>
<rect x="465.67" y="348.57" width="4.35" height="39.43" fill="#000000" stroke="#000" stroke-width="1.3"/>
<rect x="477.07" y="385.79" width="4.95" height="2.21" fill="#ffffff" stroke="#000" stroke-width="1.3"/>
<rect x="482.02" y="386.11" width="4.90" height="1.89" fill="#7a7a7a" stroke="#000" stroke-width="1.3"/>
<rect x="486.92" y="386.42" width="4.35" height="1.58" fill="#000000" stroke="#000" stroke-width="1.3"/>
<line x1="500.80" y1="325.55" x2="500.80" y2="331.86" stroke="#000" stroke-width="1.2"/>
<line x1="498.10" y1="325.55" x2="503.50" y2="325.55" stroke="#000" stroke-width="1.3"/>
<rect x="498.32" y="331.86" width="4.95" height="56.14" fill="#ffffff" stroke="#000" stroke-width="1.3"/>
<line x1="505.72" y1="358.35" x2="505.72" y2="359.30" stroke="#000" stroke-width="1.2"/>
<line x1="503.02" y1="358.35" x2="508.42" y2="358.35" stroke="#000" stroke-width="1.3"/>
<rect x="503.27" y="359.30" width="4.90" height="28.70" fill="#7a7a7a" stroke="#000" stroke-width="1.3"/>
<line x1="510.35" y1="372.55" x2="510.35" y2="374.44" stroke="#000" stroke-width="1.2"/>
<line x1="507.65" y1="372.55" x2="513.05" y2="372.55" stroke="#000" stroke-width="1.3"/>
<rect x="508.17" y="374.44" width="4.35" height="13.56" fill="#000000" stroke="#000" stroke-width="1.3"/>
<circle cx="399.90" cy="363.00" r="1.3" fill="#1e1e1e"/>
<circle cx="404.90" cy="366.40" r="1.3" fill="#1e1e1e"/>
<circle cx="420.70" cy="321.10" r="1.3" fill="#1e1e1e"/>
<circle cx="424.30" cy="346.30" r="1.3" fill="#1e1e1e"/>
<circle cx="428.40" cy="346.30" r="1.3" fill="#1e1e1e"/>
<circle cx="463.30" cy="308.50" r="1.3" fill="#1e1e1e"/>
<circle cx="467.50" cy="343.60" r="1.3" fill="#1e1e1e"/>
<circle cx="471.80" cy="343.60" r="1.3" fill="#1e1e1e"/>
<circle cx="506.30" cy="355.70" r="1.3" fill="#1e1e1e"/>
<circle cx="509.90" cy="368.20" r="1.3" fill="#1e1e1e"/>
<circle cx="514.30" cy="368.20" r="1.3" fill="#1e1e1e"/>
<rect x="388.80" y="230.30" width="127.50" height="157.70" fill="none" stroke="#000" stroke-width="1.4"/>
<line x1="384.80" y1="388.00" x2="388.80" y2="388.00" stroke="#000" stroke-width="1.2"/>
<text x="382.20" y="392.00" font-size="11.8" text-anchor="end" font-family='"Liberation Sans", sans-serif' font-weight="normal" fill="#1a1a1a" stroke="#1a1a1a" stroke-width="0.4" >0</text>
<line x1="384.80" y1="356.46" x2="388.80" y2="356.46" stroke="#000" stroke-width="1.2"/>
<text x="382.20" y="360.22" font-size="11.8" text-anchor="end" font-family='"Liberation Sans", sans-serif' font-weight="normal" fill="#1a1a1a" stroke="#1a1a1a" stroke-width="0.4" >0.1</text>
<line x1="384.80" y1="324.92" x2="388.80" y2="324.92" stroke="#000" stroke-width="1.2"/>
<text x="382.20" y="328.44" font-size="11.8" text-anchor="end" font-family='"Liberation Sans", sans-serif' font-weight="normal" fill="#1a1a1a" stroke="#1a1a1a" stroke-width="0.4" >0.2</text>
<line x1="384.80" y1="293.38" x2="388.80" y2="293.38" stroke="#000" stroke-width="1.2"/>
<text x="382.20" y="296.66" font-size="11.8" text-anchor="end" font-family='"Liberation Sans", sans-serif' font-weight="normal" fill="#1a1a1a" stroke="#1a1a1a" stroke-width="0.4" >0.3</text>
<line x1="384.80" y1="261.84" x2="388.80" y2="261.84" stroke="#000" stroke-width="1.2"/>
<text x="382.20" y="264.88" font-size="11.8" text-anchor="end" font-family='"Liberation Sans", sans-serif' font-weight="normal" fill="#1a1a1a" stroke="#1a1a1a" stroke-width="0.4" >0.4</text>
<line x1="384.80" y1="230.30" x2="388.80" y2="230.30" stroke="#000" stroke-width="1.2"/>
<text x="382.20" y="233.10" font-size="11.8" text-anchor="end" font-family='"Liberation Sans", sans-serif' font-weight="normal" fill="#1a1a1a" stroke="#1a1a1a" stroke-width="0.4" >0.5</text>
<line x1="388.80" y1="388.00" x2="388.80" y2="391.50" stroke="#000" stroke-width="1.2"/>
<line x1="410.05" y1="388.00" x2="410.05" y2="391.50" stroke="#000" stroke-width="1.2"/>
<line x1="431.30" y1="388.00" x2="431.30" y2="391.50" stroke="#000" stroke-width="1.2"/>
<line x1="452.55" y1="388.00" x2="452.55" y2="391.50" stroke="#000" stroke-width="1.2"/>
<line x1="473.80" y1="388.00" x2="473.80" y2="391.50" stroke="#000" stroke-width="1.2"/>
<line x1="495.05" y1="388.00" x2="495.05" y2="391.50" stroke="#000" stroke-width="1.2"/>
<line x1="516.30" y1="388.00" x2="516.30" y2="391.50" stroke="#000" stroke-width="1.2"/>
<text x="399.43" y="402.80" font-size="11.3" text-anchor="middle" font-family='"Liberation Sans", sans-serif' font-weight="normal" fill="#1a1a1a" stroke="#1a1a1a" stroke-width="0.4" >I</text>
<text x="420.93" y="402.80" font-size="11.3" text-anchor="middle" font-family='"Liberation Sans", sans-serif' font-weight="normal" fill="#1a1a1a" stroke="#1a1a1a" stroke-width="0.4" letter-spacing="0.5">II</text>
<text x="442.27" y="402.80" font-size="11.3" text-anchor="middle" font-family='"Liberation Sans", sans-serif' font-weight="normal" fill="#1a1a1a" stroke="#1a1a1a" stroke-width="0.4" letter-spacing="0.7">III</text>
<text x="463.17" y="402.80" font-size="11.3" text-anchor="middle" font-family='"Liberation Sans", sans-serif' font-weight="normal" fill="#1a1a1a" stroke="#1a1a1a" stroke-width="0.4" >IV</text>
<text x="484.42" y="402.80" font-size="11.3" text-anchor="middle" font-family='"Liberation Sans", sans-serif' font-weight="normal" fill="#1a1a1a" stroke="#1a1a1a" stroke-width="0.4" >V</text>
<text x="505.67" y="402.80" font-size="11.3" text-anchor="middle" font-family='"Liberation Sans", sans-serif' font-weight="normal" fill="#1a1a1a" stroke="#1a1a1a" stroke-width="0.4" >VI</text>
<text x="454.80" y="223.60" font-size="11" text-anchor="middle" font-family='"Liberation Sans", sans-serif' font-weight="normal" fill="#1a1a1a" stroke="#1a1a1a" stroke-width="0.4" textLength="39.0" lengthAdjust="spacingAndGlyphs">CoREST</text>
<text x="514.80" y="244.80" font-size="11" text-anchor="end" font-family='"Liberation Sans", sans-serif' font-weight="normal" fill="#1a1a1a" stroke="#1a1a1a" stroke-width="0.4" textLength="62.0" lengthAdjust="spacingAndGlyphs">RN-1 (&#956;g/g)</text>
<rect x="481.50" y="254.00" width="7.60" height="7.00" fill="#ffffff" stroke="#000" stroke-width="1.1"/>
<text x="497.60" y="261.40" font-size="11.6" text-anchor="start" font-family='"Liberation Sans", sans-serif' font-weight="normal" fill="#1a1a1a" stroke="#1a1a1a" stroke-width="0.4" textLength="7.2" lengthAdjust="spacingAndGlyphs">0</text>
<rect x="481.50" y="265.80" width="7.60" height="7.50" fill="#7a7a7a" stroke="#000" stroke-width="1.1"/>
<text x="497.60" y="273.70" font-size="11.6" text-anchor="start" font-family='"Liberation Sans", sans-serif' font-weight="normal" fill="#1a1a1a" stroke="#1a1a1a" stroke-width="0.4" textLength="7.2" lengthAdjust="spacingAndGlyphs">3</text>
<rect x="481.50" y="278.50" width="7.60" height="7.30" fill="#000000" stroke="#000" stroke-width="1.1"/>
<text x="497.60" y="286.20" font-size="11.6" text-anchor="start" font-family='"Liberation Sans", sans-serif' font-weight="normal" fill="#1a1a1a" stroke="#1a1a1a" stroke-width="0.4" textLength="14.4" lengthAdjust="spacingAndGlyphs">10</text>
<text x="351.20" y="217.20" font-size="16" text-anchor="start" font-family='"Liberation Sans", sans-serif' font-weight="bold" fill="#000" stroke="#000" stroke-width="0.4" >E</text>
<text x="361.00" y="306.80" font-size="11" text-anchor="middle" font-family='"Liberation Sans", sans-serif' font-weight="normal" fill="#1a1a1a" stroke="#1a1a1a" stroke-width="0.4" transform="rotate(-90 361.00 306.80)" textLength="53.5" lengthAdjust="spacingAndGlyphs">% of Input</text>
<line x1="39.70" y1="572.22" x2="167.30" y2="572.22" stroke="#d4d4d4" stroke-width="1"/>
<line x1="39.70" y1="540.64" x2="167.30" y2="540.64" stroke="#d4d4d4" stroke-width="1"/>
<line x1="39.70" y1="509.06" x2="167.30" y2="509.06" stroke="#d4d4d4" stroke-width="1"/>
<line x1="39.70" y1="477.48" x2="167.30" y2="477.48" stroke="#d4d4d4" stroke-width="1"/>
<line x1="45.46" y1="476.85" x2="45.46" y2="495.80" stroke="#000" stroke-width="1.2"/>
<line x1="42.76" y1="476.85" x2="48.16" y2="476.85" stroke="#000" stroke-width="1.3"/>
<rect x="42.98" y="495.80" width="4.95" height="108.00" fill="#ffffff" stroke="#000" stroke-width="1.3"/>
<line x1="50.38" y1="458.53" x2="50.38" y2="469.90" stroke="#000" stroke-width="1.2"/>
<line x1="47.68" y1="458.53" x2="53.08" y2="458.53" stroke="#000" stroke-width="1.3"/>
<rect x="47.93" y="469.90" width="4.90" height="133.90" fill="#7a7a7a" stroke="#000" stroke-width="1.3"/>
<line x1="55.01" y1="493.27" x2="55.01" y2="524.85" stroke="#000" stroke-width="1.2"/>
<line x1="52.31" y1="493.27" x2="57.71" y2="493.27" stroke="#000" stroke-width="1.3"/>
<rect x="52.83" y="524.85" width="4.35" height="78.95" fill="#000000" stroke="#000" stroke-width="1.3"/>
<line x1="66.73" y1="518.53" x2="66.73" y2="529.27" stroke="#000" stroke-width="1.2"/>
<line x1="64.03" y1="518.53" x2="69.43" y2="518.53" stroke="#000" stroke-width="1.3"/>
<rect x="64.25" y="529.27" width="4.95" height="74.53" fill="#ffffff" stroke="#000" stroke-width="1.3"/>
<line x1="71.65" y1="528.01" x2="71.65" y2="534.96" stroke="#000" stroke-width="1.2"/>
<line x1="68.95" y1="528.01" x2="74.35" y2="528.01" stroke="#000" stroke-width="1.3"/>
<rect x="69.20" y="534.96" width="4.90" height="68.84" fill="#7a7a7a" stroke="#000" stroke-width="1.3"/>
<line x1="76.28" y1="534.96" x2="76.28" y2="546.96" stroke="#000" stroke-width="1.2"/>
<line x1="73.58" y1="534.96" x2="78.98" y2="534.96" stroke="#000" stroke-width="1.3"/>
<rect x="74.10" y="546.96" width="4.35" height="56.84" fill="#000000" stroke="#000" stroke-width="1.3"/>
<line x1="87.99" y1="587.38" x2="87.99" y2="589.90" stroke="#000" stroke-width="1.2"/>
<line x1="85.29" y1="587.38" x2="90.69" y2="587.38" stroke="#000" stroke-width="1.3"/>
<rect x="85.52" y="589.90" width="4.95" height="13.90" fill="#ffffff" stroke="#000" stroke-width="1.3"/>
<line x1="92.92" y1="593.38" x2="92.92" y2="594.33" stroke="#000" stroke-width="1.2"/>
<line x1="90.22" y1="593.38" x2="95.62" y2="593.38" stroke="#000" stroke-width="1.3"/>
<rect x="90.47" y="594.33" width="4.90" height="9.47" fill="#7a7a7a" stroke="#000" stroke-width="1.3"/>
<line x1="97.54" y1="591.17" x2="97.54" y2="593.69" stroke="#000" stroke-width="1.2"/>
<line x1="94.84" y1="591.17" x2="100.24" y2="591.17" stroke="#000" stroke-width="1.3"/>
<rect x="95.37" y="593.69" width="4.35" height="10.11" fill="#000000" stroke="#000" stroke-width="1.3"/>
<line x1="109.26" y1="569.06" x2="109.26" y2="570.33" stroke="#000" stroke-width="1.2"/>
<line x1="106.56" y1="569.06" x2="111.96" y2="569.06" stroke="#000" stroke-width="1.3"/>
<rect x="106.78" y="570.33" width="4.95" height="33.47" fill="#ffffff" stroke="#000" stroke-width="1.3"/>
<line x1="114.18" y1="562.75" x2="114.18" y2="567.80" stroke="#000" stroke-width="1.2"/>
<line x1="111.48" y1="562.75" x2="116.88" y2="562.75" stroke="#000" stroke-width="1.3"/>
<rect x="111.73" y="567.80" width="4.90" height="36.00" fill="#7a7a7a" stroke="#000" stroke-width="1.3"/>
<line x1="118.81" y1="572.85" x2="118.81" y2="578.54" stroke="#000" stroke-width="1.2"/>
<line x1="116.11" y1="572.85" x2="121.51" y2="572.85" stroke="#000" stroke-width="1.3"/>
<rect x="116.63" y="578.54" width="4.35" height="25.26" fill="#000000" stroke="#000" stroke-width="1.3"/>
<line x1="130.53" y1="593.69" x2="130.53" y2="598.75" stroke="#000" stroke-width="1.2"/>
<line x1="127.83" y1="593.69" x2="133.23" y2="593.69" stroke="#000" stroke-width="1.3"/>
<rect x="128.05" y="598.75" width="4.95" height="5.05" fill="#ffffff" stroke="#000" stroke-width="1.3"/>
<line x1="135.45" y1="593.06" x2="135.45" y2="596.85" stroke="#000" stroke-width="1.2"/>
<line x1="132.75" y1="593.06" x2="138.15" y2="593.06" stroke="#000" stroke-width="1.3"/>
<rect x="133.00" y="596.85" width="4.90" height="6.95" fill="#7a7a7a" stroke="#000" stroke-width="1.3"/>
<line x1="140.08" y1="595.27" x2="140.08" y2="598.12" stroke="#000" stroke-width="1.2"/>
<line x1="137.38" y1="595.27" x2="142.78" y2="595.27" stroke="#000" stroke-width="1.3"/>
<rect x="137.90" y="598.12" width="4.35" height="5.68" fill="#000000" stroke="#000" stroke-width="1.3"/>
<line x1="151.79" y1="587.38" x2="151.79" y2="591.17" stroke="#000" stroke-width="1.2"/>
<line x1="149.09" y1="587.38" x2="154.49" y2="587.38" stroke="#000" stroke-width="1.3"/>
<rect x="149.32" y="591.17" width="4.95" height="12.63" fill="#ffffff" stroke="#000" stroke-width="1.3"/>
<line x1="156.72" y1="584.22" x2="156.72" y2="591.17" stroke="#000" stroke-width="1.2"/>
<line x1="154.02" y1="584.22" x2="159.42" y2="584.22" stroke="#000" stroke-width="1.3"/>
<rect x="154.27" y="591.17" width="4.90" height="12.63" fill="#7a7a7a" stroke="#000" stroke-width="1.3"/>
<line x1="161.34" y1="587.38" x2="161.34" y2="593.06" stroke="#000" stroke-width="1.2"/>
<line x1="158.64" y1="587.38" x2="164.04" y2="587.38" stroke="#000" stroke-width="1.3"/>
<rect x="159.17" y="593.06" width="4.35" height="10.74" fill="#000000" stroke="#000" stroke-width="1.3"/>
<rect x="39.70" y="445.90" width="127.60" height="157.90" fill="none" stroke="#000" stroke-width="1.4"/>
<line x1="35.70" y1="603.80" x2="39.70" y2="603.80" stroke="#000" stroke-width="1.2"/>
<text x="36.20" y="607.80" font-size="11.8" text-anchor="end" font-family='"Liberation Sans", sans-serif' font-weight="normal" fill="#1a1a1a" stroke="#1a1a1a" stroke-width="0.4" >0</text>
<line x1="35.70" y1="572.22" x2="39.70" y2="572.22" stroke="#000" stroke-width="1.2"/>
<text x="36.20" y="575.98" font-size="11.8" text-anchor="end" font-family='"Liberation Sans", sans-serif' font-weight="normal" fill="#1a1a1a" stroke="#1a1a1a" stroke-width="0.4" >0.05</text>
<line x1="35.70" y1="540.64" x2="39.70" y2="540.64" stroke="#000" stroke-width="1.2"/>
<text x="36.20" y="544.16" font-size="11.8" text-anchor="end" font-family='"Liberation Sans", sans-serif' font-weight="normal" fill="#1a1a1a" stroke="#1a1a1a" stroke-width="0.4" >0.10</text>
<line x1="35.70" y1="509.06" x2="39.70" y2="509.06" stroke="#000" stroke-width="1.2"/>
<text x="36.20" y="512.34" font-size="11.8" text-anchor="end" font-family='"Liberation Sans", sans-serif' font-weight="normal" fill="#1a1a1a" stroke="#1a1a1a" stroke-width="0.4" >0.15</text>
<line x1="35.70" y1="477.48" x2="39.70" y2="477.48" stroke="#000" stroke-width="1.2"/>
<text x="36.20" y="480.52" font-size="11.8" text-anchor="end" font-family='"Liberation Sans", sans-serif' font-weight="normal" fill="#1a1a1a" stroke="#1a1a1a" stroke-width="0.4" >0.20</text>
<line x1="35.70" y1="445.90" x2="39.70" y2="445.90" stroke="#000" stroke-width="1.2"/>
<text x="36.20" y="448.70" font-size="11.8" text-anchor="end" font-family='"Liberation Sans", sans-serif' font-weight="normal" fill="#1a1a1a" stroke="#1a1a1a" stroke-width="0.4" >0.25</text>
<line x1="39.70" y1="603.80" x2="39.70" y2="607.30" stroke="#000" stroke-width="1.2"/>
<line x1="60.97" y1="603.80" x2="60.97" y2="607.30" stroke="#000" stroke-width="1.2"/>
<line x1="82.23" y1="603.80" x2="82.23" y2="607.30" stroke="#000" stroke-width="1.2"/>
<line x1="103.50" y1="603.80" x2="103.50" y2="607.30" stroke="#000" stroke-width="1.2"/>
<line x1="124.77" y1="603.80" x2="124.77" y2="607.30" stroke="#000" stroke-width="1.2"/>
<line x1="146.03" y1="603.80" x2="146.03" y2="607.30" stroke="#000" stroke-width="1.2"/>
<line x1="167.30" y1="603.80" x2="167.30" y2="607.30" stroke="#000" stroke-width="1.2"/>
<text x="50.33" y="617.10" font-size="11.3" text-anchor="middle" font-family='"Liberation Sans", sans-serif' font-weight="normal" fill="#1a1a1a" stroke="#1a1a1a" stroke-width="0.4" >I</text>
<text x="71.85" y="617.10" font-size="11.3" text-anchor="middle" font-family='"Liberation Sans", sans-serif' font-weight="normal" fill="#1a1a1a" stroke="#1a1a1a" stroke-width="0.4" letter-spacing="0.5">II</text>
<text x="93.22" y="617.10" font-size="11.3" text-anchor="middle" font-family='"Liberation Sans", sans-serif' font-weight="normal" fill="#1a1a1a" stroke="#1a1a1a" stroke-width="0.4" letter-spacing="0.7">III</text>
<text x="114.13" y="617.10" font-size="11.3" text-anchor="middle" font-family='"Liberation Sans", sans-serif' font-weight="normal" fill="#1a1a1a" stroke="#1a1a1a" stroke-width="0.4" >IV</text>
<text x="135.40" y="617.10" font-size="11.3" text-anchor="middle" font-family='"Liberation Sans", sans-serif' font-weight="normal" fill="#1a1a1a" stroke="#1a1a1a" stroke-width="0.4" >V</text>
<text x="156.67" y="617.10" font-size="11.3" text-anchor="middle" font-family='"Liberation Sans", sans-serif' font-weight="normal" fill="#1a1a1a" stroke="#1a1a1a" stroke-width="0.4" >VI</text>
<text x="103.55" y="440.40" font-size="11" text-anchor="middle" font-family='"Liberation Sans", sans-serif' font-weight="normal" fill="#1a1a1a" stroke="#1a1a1a" stroke-width="0.4" textLength="19.1" lengthAdjust="spacingAndGlyphs">TR2</text>
<text x="166.40" y="458.80" font-size="11" text-anchor="end" font-family='"Liberation Sans", sans-serif' font-weight="normal" fill="#1a1a1a" stroke="#1a1a1a" stroke-width="0.4" textLength="63.2" lengthAdjust="spacingAndGlyphs">RN-1 (&#956;g/g)</text>
<rect x="131.80" y="465.90" width="8.10" height="7.30" fill="#ffffff" stroke="#000" stroke-width="1.1"/>
<text x="147.00" y="473.60" font-size="11.6" text-anchor="start" font-family='"Liberation Sans", sans-serif' font-weight="normal" fill="#1a1a1a" stroke="#1a1a1a" stroke-width="0.4" textLength="7.2" lengthAdjust="spacingAndGlyphs">0</text>
<rect x="131.80" y="478.50" width="8.10" height="7.20" fill="#7a7a7a" stroke="#000" stroke-width="1.1"/>
<text x="147.00" y="486.10" font-size="11.6" text-anchor="start" font-family='"Liberation Sans", sans-serif' font-weight="normal" fill="#1a1a1a" stroke="#1a1a1a" stroke-width="0.4" textLength="7.2" lengthAdjust="spacingAndGlyphs">3</text>
<rect x="131.80" y="491.30" width="8.10" height="7.00" fill="#000000" stroke="#000" stroke-width="1.1"/>
<text x="147.00" y="498.70" font-size="11.6" text-anchor="start" font-family='"Liberation Sans", sans-serif' font-weight="normal" fill="#1a1a1a" stroke="#1a1a1a" stroke-width="0.4" textLength="14.4" lengthAdjust="spacingAndGlyphs">10</text>
<text x="-0.10" y="429.80" font-size="16" text-anchor="start" font-family='"Liberation Sans", sans-serif' font-weight="bold" fill="#000" stroke="#000" stroke-width="0.4" >F</text>
<text x="11.20" y="520.60" font-size="11" text-anchor="middle" font-family='"Liberation Sans", sans-serif' font-weight="normal" fill="#1a1a1a" stroke="#1a1a1a" stroke-width="0.4" transform="rotate(-90 11.20 520.60)" textLength="54.0" lengthAdjust="spacingAndGlyphs">% of Input</text>
<line x1="215.90" y1="572.50" x2="343.50" y2="572.50" stroke="#d4d4d4" stroke-width="1"/>
<line x1="215.90" y1="541.00" x2="343.50" y2="541.00" stroke="#d4d4d4" stroke-width="1"/>
<line x1="215.90" y1="509.50" x2="343.50" y2="509.50" stroke="#d4d4d4" stroke-width="1"/>
<line x1="215.90" y1="478.00" x2="343.50" y2="478.00" stroke="#d4d4d4" stroke-width="1"/>
<line x1="221.66" y1="461.46" x2="221.66" y2="475.64" stroke="#000" stroke-width="1.2"/>
<line x1="218.96" y1="461.46" x2="224.36" y2="461.46" stroke="#000" stroke-width="1.3"/>
<rect x="219.18" y="475.64" width="4.95" height="128.36" fill="#ffffff" stroke="#000" stroke-width="1.3"/>
<line x1="226.58" y1="456.74" x2="226.58" y2="465.40" stroke="#000" stroke-width="1.2"/>
<line x1="223.88" y1="456.74" x2="229.28" y2="456.74" stroke="#000" stroke-width="1.3"/>
<rect x="224.13" y="465.40" width="4.90" height="138.60" fill="#7a7a7a" stroke="#000" stroke-width="1.3"/>
<line x1="231.21" y1="463.04" x2="231.21" y2="473.27" stroke="#000" stroke-width="1.2"/>
<line x1="228.51" y1="463.04" x2="233.91" y2="463.04" stroke="#000" stroke-width="1.3"/>
<rect x="229.03" y="473.27" width="4.35" height="130.73" fill="#000000" stroke="#000" stroke-width="1.3"/>
<line x1="242.93" y1="535.09" x2="242.93" y2="538.09" stroke="#000" stroke-width="1.2"/>
<line x1="240.23" y1="535.09" x2="245.62" y2="535.09" stroke="#000" stroke-width="1.3"/>
<rect x="240.45" y="538.09" width="4.95" height="65.91" fill="#ffffff" stroke="#000" stroke-width="1.3"/>
<line x1="247.85" y1="526.43" x2="247.85" y2="530.76" stroke="#000" stroke-width="1.2"/>
<line x1="245.15" y1="526.43" x2="250.55" y2="526.43" stroke="#000" stroke-width="1.3"/>
<rect x="245.40" y="530.76" width="4.90" height="73.24" fill="#7a7a7a" stroke="#000" stroke-width="1.3"/>
<line x1="252.48" y1="527.93" x2="252.48" y2="533.12" stroke="#000" stroke-width="1.2"/>
<line x1="249.78" y1="527.93" x2="255.18" y2="527.93" stroke="#000" stroke-width="1.3"/>
<rect x="250.30" y="533.12" width="4.35" height="70.88" fill="#000000" stroke="#000" stroke-width="1.3"/>
<line x1="264.19" y1="585.10" x2="264.19" y2="590.61" stroke="#000" stroke-width="1.2"/>
<line x1="261.49" y1="585.10" x2="266.89" y2="585.10" stroke="#000" stroke-width="1.3"/>
<rect x="261.72" y="590.61" width="4.95" height="13.39" fill="#ffffff" stroke="#000" stroke-width="1.3"/>
<line x1="269.12" y1="591.79" x2="269.12" y2="595.10" stroke="#000" stroke-width="1.2"/>
<line x1="266.42" y1="591.79" x2="271.82" y2="591.79" stroke="#000" stroke-width="1.3"/>
<rect x="266.67" y="595.10" width="4.90" height="8.90" fill="#7a7a7a" stroke="#000" stroke-width="1.3"/>
<line x1="273.74" y1="594.16" x2="273.74" y2="596.12" stroke="#000" stroke-width="1.2"/>
<line x1="271.04" y1="594.16" x2="276.44" y2="594.16" stroke="#000" stroke-width="1.3"/>
<rect x="271.57" y="596.12" width="4.35" height="7.88" fill="#000000" stroke="#000" stroke-width="1.3"/>
<line x1="285.46" y1="563.05" x2="285.46" y2="568.80" stroke="#000" stroke-width="1.2"/>
<line x1="282.76" y1="563.05" x2="288.16" y2="563.05" stroke="#000" stroke-width="1.3"/>
<rect x="282.98" y="568.80" width="4.95" height="35.20" fill="#ffffff" stroke="#000" stroke-width="1.3"/>
<line x1="290.38" y1="556.75" x2="290.38" y2="570.92" stroke="#000" stroke-width="1.2"/>
<line x1="287.68" y1="556.75" x2="293.08" y2="556.75" stroke="#000" stroke-width="1.3"/>
<rect x="287.93" y="570.92" width="4.90" height="33.08" fill="#7a7a7a" stroke="#000" stroke-width="1.3"/>
<line x1="295.01" y1="536.59" x2="295.01" y2="556.75" stroke="#000" stroke-width="1.2"/>
<line x1="292.31" y1="536.59" x2="297.71" y2="536.59" stroke="#000" stroke-width="1.3"/>
<rect x="292.83" y="556.75" width="4.35" height="47.25" fill="#000000" stroke="#000" stroke-width="1.3"/>
<line x1="306.73" y1="592.74" x2="306.73" y2="597.70" stroke="#000" stroke-width="1.2"/>
<line x1="304.03" y1="592.74" x2="309.43" y2="592.74" stroke="#000" stroke-width="1.3"/>
<rect x="304.25" y="597.70" width="4.95" height="6.30" fill="#ffffff" stroke="#000" stroke-width="1.3"/>
<line x1="311.65" y1="597.70" x2="311.65" y2="600.06" stroke="#000" stroke-width="1.2"/>
<line x1="308.95" y1="597.70" x2="314.35" y2="597.70" stroke="#000" stroke-width="1.3"/>
<rect x="309.20" y="600.06" width="4.90" height="3.94" fill="#7a7a7a" stroke="#000" stroke-width="1.3"/>
<line x1="316.28" y1="597.70" x2="316.28" y2="599.27" stroke="#000" stroke-width="1.2"/>
<line x1="313.58" y1="597.70" x2="318.98" y2="597.70" stroke="#000" stroke-width="1.3"/>
<rect x="314.10" y="599.27" width="4.35" height="4.73" fill="#000000" stroke="#000" stroke-width="1.3"/>
<line x1="327.99" y1="590.61" x2="327.99" y2="595.10" stroke="#000" stroke-width="1.2"/>
<line x1="325.29" y1="590.61" x2="330.69" y2="590.61" stroke="#000" stroke-width="1.3"/>
<rect x="325.52" y="595.10" width="4.95" height="8.90" fill="#ffffff" stroke="#000" stroke-width="1.3"/>
<line x1="332.92" y1="592.74" x2="332.92" y2="598.72" stroke="#000" stroke-width="1.2"/>
<line x1="330.22" y1="592.74" x2="335.62" y2="592.74" stroke="#000" stroke-width="1.3"/>
<rect x="330.47" y="598.72" width="4.90" height="5.28" fill="#7a7a7a" stroke="#000" stroke-width="1.3"/>
<rect x="335.37" y="598.72" width="4.35" height="5.28" fill="#000000" stroke="#000" stroke-width="1.3"/>
<rect x="215.90" y="446.50" width="127.60" height="157.50" fill="none" stroke="#000" stroke-width="1.4"/>
<line x1="211.90" y1="604.00" x2="215.90" y2="604.00" stroke="#000" stroke-width="1.2"/>
<text x="212.00" y="608.00" font-size="11.8" text-anchor="end" font-family='"Liberation Sans", sans-serif' font-weight="normal" fill="#1a1a1a" stroke="#1a1a1a" stroke-width="0.4" >0</text>
<line x1="211.90" y1="572.50" x2="215.90" y2="572.50" stroke="#000" stroke-width="1.2"/>
<text x="212.00" y="576.26" font-size="11.8" text-anchor="end" font-family='"Liberation Sans", sans-serif' font-weight="normal" fill="#1a1a1a" stroke="#1a1a1a" stroke-width="0.4" >0.04</text>
<line x1="211.90" y1="541.00" x2="215.90" y2="541.00" stroke="#000" stroke-width="1.2"/>
<text x="212.00" y="544.52" font-size="11.8" text-anchor="end" font-family='"Liberation Sans", sans-serif' font-weight="normal" fill="#1a1a1a" stroke="#1a1a1a" stroke-width="0.4" >0.08</text>
<line x1="211.90" y1="509.50" x2="215.90" y2="509.50" stroke="#000" stroke-width="1.2"/>
<text x="212.00" y="512.78" font-size="11.8" text-anchor="end" font-family='"Liberation Sans", sans-serif' font-weight="normal" fill="#1a1a1a" stroke="#1a1a1a" stroke-width="0.4" >0.12</text>
<line x1="211.90" y1="478.00" x2="215.90" y2="478.00" stroke="#000" stroke-width="1.2"/>
<text x="212.00" y="481.04" font-size="11.8" text-anchor="end" font-family='"Liberation Sans", sans-serif' font-weight="normal" fill="#1a1a1a" stroke="#1a1a1a" stroke-width="0.4" >0.16</text>
<line x1="211.90" y1="446.50" x2="215.90" y2="446.50" stroke="#000" stroke-width="1.2"/>
<text x="212.00" y="449.30" font-size="11.8" text-anchor="end" font-family='"Liberation Sans", sans-serif' font-weight="normal" fill="#1a1a1a" stroke="#1a1a1a" stroke-width="0.4" >0.20</text>
<line x1="215.90" y1="604.00" x2="215.90" y2="607.50" stroke="#000" stroke-width="1.2"/>
<line x1="237.17" y1="604.00" x2="237.17" y2="607.50" stroke="#000" stroke-width="1.2"/>
<line x1="258.43" y1="604.00" x2="258.43" y2="607.50" stroke="#000" stroke-width="1.2"/>
<line x1="279.70" y1="604.00" x2="279.70" y2="607.50" stroke="#000" stroke-width="1.2"/>
<line x1="300.97" y1="604.00" x2="300.97" y2="607.50" stroke="#000" stroke-width="1.2"/>
<line x1="322.23" y1="604.00" x2="322.23" y2="607.50" stroke="#000" stroke-width="1.2"/>
<line x1="343.50" y1="604.00" x2="343.50" y2="607.50" stroke="#000" stroke-width="1.2"/>
<text x="226.53" y="617.10" font-size="11.3" text-anchor="middle" font-family='"Liberation Sans", sans-serif' font-weight="normal" fill="#1a1a1a" stroke="#1a1a1a" stroke-width="0.4" >I</text>
<text x="248.05" y="617.10" font-size="11.3" text-anchor="middle" font-family='"Liberation Sans", sans-serif' font-weight="normal" fill="#1a1a1a" stroke="#1a1a1a" stroke-width="0.4" letter-spacing="0.5">II</text>
<text x="269.42" y="617.10" font-size="11.3" text-anchor="middle" font-family='"Liberation Sans", sans-serif' font-weight="normal" fill="#1a1a1a" stroke="#1a1a1a" stroke-width="0.4" letter-spacing="0.7">III</text>
<text x="290.33" y="617.10" font-size="11.3" text-anchor="middle" font-family='"Liberation Sans", sans-serif' font-weight="normal" fill="#1a1a1a" stroke="#1a1a1a" stroke-width="0.4" >IV</text>
<text x="311.60" y="617.10" font-size="11.3" text-anchor="middle" font-family='"Liberation Sans", sans-serif' font-weight="normal" fill="#1a1a1a" stroke="#1a1a1a" stroke-width="0.4" >V</text>
<text x="332.87" y="617.10" font-size="11.3" text-anchor="middle" font-family='"Liberation Sans", sans-serif' font-weight="normal" fill="#1a1a1a" stroke="#1a1a1a" stroke-width="0.4" >VI</text>
<text x="279.25" y="440.10" font-size="11" text-anchor="middle" font-family='"Liberation Sans", sans-serif' font-weight="normal" fill="#1a1a1a" stroke="#1a1a1a" stroke-width="0.4" textLength="19.1" lengthAdjust="spacingAndGlyphs">TR4</text>
<text x="340.60" y="461.90" font-size="11" text-anchor="end" font-family='"Liberation Sans", sans-serif' font-weight="normal" fill="#1a1a1a" stroke="#1a1a1a" stroke-width="0.4" textLength="62.7" lengthAdjust="spacingAndGlyphs">RN-1 (&#956;g/g)</text>
<rect x="306.70" y="469.30" width="8.00" height="7.40" fill="#ffffff" stroke="#000" stroke-width="1.1"/>
<text x="322.20" y="477.10" font-size="11.6" text-anchor="start" font-family='"Liberation Sans", sans-serif' font-weight="normal" fill="#1a1a1a" stroke="#1a1a1a" stroke-width="0.4" textLength="7.2" lengthAdjust="spacingAndGlyphs">0</text>
<rect x="306.70" y="481.40" width="8.00" height="7.80" fill="#7a7a7a" stroke="#000" stroke-width="1.1"/>
<text x="322.20" y="489.60" font-size="11.6" text-anchor="start" font-family='"Liberation Sans", sans-serif' font-weight="normal" fill="#1a1a1a" stroke="#1a1a1a" stroke-width="0.4" textLength="7.2" lengthAdjust="spacingAndGlyphs">3</text>
<rect x="306.70" y="494.10" width="8.00" height="7.20" fill="#000000" stroke="#000" stroke-width="1.1"/>
<text x="322.20" y="501.70" font-size="11.6" text-anchor="start" font-family='"Liberation Sans", sans-serif' font-weight="normal" fill="#1a1a1a" stroke="#1a1a1a" stroke-width="0.4" textLength="14.4" lengthAdjust="spacingAndGlyphs">10</text>
<text x="177.20" y="430.10" font-size="16" text-anchor="start" font-family='"Liberation Sans", sans-serif' font-weight="bold" fill="#000" stroke="#000" stroke-width="0.4" >G</text>
<text x="186.00" y="521.90" font-size="11" text-anchor="middle" font-family='"Liberation Sans", sans-serif' font-weight="normal" fill="#1a1a1a" stroke="#1a1a1a" stroke-width="0.4" transform="rotate(-90 186.00 521.90)" textLength="54.0" lengthAdjust="spacingAndGlyphs">% of Input</text>
<line x1="390.20" y1="572.58" x2="518.00" y2="572.58" stroke="#d4d4d4" stroke-width="1"/>
<line x1="390.20" y1="541.06" x2="518.00" y2="541.06" stroke="#d4d4d4" stroke-width="1"/>
<line x1="390.20" y1="509.54" x2="518.00" y2="509.54" stroke="#d4d4d4" stroke-width="1"/>
<line x1="390.20" y1="478.02" x2="518.00" y2="478.02" stroke="#d4d4d4" stroke-width="1"/>
<line x1="395.97" y1="557.84" x2="395.97" y2="565.02" stroke="#000" stroke-width="1.2"/>
<line x1="393.27" y1="557.84" x2="398.67" y2="557.84" stroke="#000" stroke-width="1.3"/>
<rect x="393.50" y="565.02" width="4.95" height="39.08" fill="#ffffff" stroke="#000" stroke-width="1.3"/>
<line x1="400.90" y1="560.76" x2="400.90" y2="563.12" stroke="#000" stroke-width="1.2"/>
<line x1="398.20" y1="560.76" x2="403.60" y2="560.76" stroke="#000" stroke-width="1.3"/>
<rect x="398.45" y="563.12" width="4.90" height="40.98" fill="#7a7a7a" stroke="#000" stroke-width="1.3"/>
<line x1="405.52" y1="571.79" x2="405.52" y2="576.52" stroke="#000" stroke-width="1.2"/>
<line x1="402.82" y1="571.79" x2="408.22" y2="571.79" stroke="#000" stroke-width="1.3"/>
<rect x="403.35" y="576.52" width="4.35" height="27.58" fill="#000000" stroke="#000" stroke-width="1.3"/>
<line x1="417.27" y1="496.14" x2="417.27" y2="511.12" stroke="#000" stroke-width="1.2"/>
<line x1="414.57" y1="496.14" x2="419.97" y2="496.14" stroke="#000" stroke-width="1.3"/>
<rect x="414.80" y="511.12" width="4.95" height="92.98" fill="#ffffff" stroke="#000" stroke-width="1.3"/>
<line x1="422.20" y1="465.02" x2="422.20" y2="487.48" stroke="#000" stroke-width="1.2"/>
<line x1="419.50" y1="465.02" x2="424.90" y2="465.02" stroke="#000" stroke-width="1.3"/>
<rect x="419.75" y="487.48" width="4.90" height="116.62" fill="#7a7a7a" stroke="#000" stroke-width="1.3"/>
<line x1="426.82" y1="509.54" x2="426.82" y2="526.09" stroke="#000" stroke-width="1.2"/>
<line x1="424.12" y1="509.54" x2="429.52" y2="509.54" stroke="#000" stroke-width="1.3"/>
<rect x="424.65" y="526.09" width="4.35" height="78.01" fill="#000000" stroke="#000" stroke-width="1.3"/>
<line x1="438.57" y1="577.31" x2="438.57" y2="581.48" stroke="#000" stroke-width="1.2"/>
<line x1="435.88" y1="577.31" x2="441.27" y2="577.31" stroke="#000" stroke-width="1.3"/>
<rect x="436.10" y="581.48" width="4.95" height="22.62" fill="#ffffff" stroke="#000" stroke-width="1.3"/>
<line x1="443.50" y1="589.92" x2="443.50" y2="592.28" stroke="#000" stroke-width="1.2"/>
<line x1="440.80" y1="589.92" x2="446.20" y2="589.92" stroke="#000" stroke-width="1.3"/>
<rect x="441.05" y="592.28" width="4.90" height="11.82" fill="#7a7a7a" stroke="#000" stroke-width="1.3"/>
<line x1="448.12" y1="578.10" x2="448.12" y2="582.98" stroke="#000" stroke-width="1.2"/>
<line x1="445.43" y1="578.10" x2="450.82" y2="578.10" stroke="#000" stroke-width="1.3"/>
<rect x="445.95" y="582.98" width="4.35" height="21.12" fill="#000000" stroke="#000" stroke-width="1.3"/>
<line x1="459.88" y1="531.05" x2="459.88" y2="533.97" stroke="#000" stroke-width="1.2"/>
<line x1="457.18" y1="531.05" x2="462.57" y2="531.05" stroke="#000" stroke-width="1.3"/>
<rect x="457.40" y="533.97" width="4.95" height="70.13" fill="#ffffff" stroke="#000" stroke-width="1.3"/>
<line x1="464.80" y1="547.36" x2="464.80" y2="556.82" stroke="#000" stroke-width="1.2"/>
<line x1="462.10" y1="547.36" x2="467.50" y2="547.36" stroke="#000" stroke-width="1.3"/>
<rect x="462.35" y="556.82" width="4.90" height="47.28" fill="#7a7a7a" stroke="#000" stroke-width="1.3"/>
<line x1="469.43" y1="538.93" x2="469.43" y2="545.95" stroke="#000" stroke-width="1.2"/>
<line x1="466.73" y1="538.93" x2="472.12" y2="538.93" stroke="#000" stroke-width="1.3"/>
<rect x="467.25" y="545.95" width="4.35" height="58.15" fill="#000000" stroke="#000" stroke-width="1.3"/>
<rect x="478.70" y="599.53" width="4.95" height="4.57" fill="#ffffff" stroke="#000" stroke-width="1.3"/>
<line x1="486.10" y1="599.37" x2="486.10" y2="601.18" stroke="#000" stroke-width="1.2"/>
<line x1="483.40" y1="599.37" x2="488.80" y2="599.37" stroke="#000" stroke-width="1.3"/>
<rect x="483.65" y="601.18" width="4.90" height="2.92" fill="#7a7a7a" stroke="#000" stroke-width="1.3"/>
<line x1="490.73" y1="597.40" x2="490.73" y2="600.16" stroke="#000" stroke-width="1.2"/>
<line x1="488.03" y1="597.40" x2="493.43" y2="597.40" stroke="#000" stroke-width="1.3"/>
<rect x="488.55" y="600.16" width="4.35" height="3.94" fill="#000000" stroke="#000" stroke-width="1.3"/>
<line x1="502.48" y1="499.30" x2="502.48" y2="506.39" stroke="#000" stroke-width="1.2"/>
<line x1="499.78" y1="499.30" x2="505.18" y2="499.30" stroke="#000" stroke-width="1.3"/>
<rect x="500.00" y="506.39" width="4.95" height="97.71" fill="#ffffff" stroke="#000" stroke-width="1.3"/>
<line x1="507.40" y1="486.69" x2="507.40" y2="492.99" stroke="#000" stroke-width="1.2"/>
<line x1="504.70" y1="486.69" x2="510.10" y2="486.69" stroke="#000" stroke-width="1.3"/>
<rect x="504.95" y="492.99" width="4.90" height="111.11" fill="#7a7a7a" stroke="#000" stroke-width="1.3"/>
<line x1="512.02" y1="501.66" x2="512.02" y2="514.27" stroke="#000" stroke-width="1.2"/>
<line x1="509.32" y1="501.66" x2="514.73" y2="501.66" stroke="#000" stroke-width="1.3"/>
<rect x="509.85" y="514.27" width="4.35" height="89.83" fill="#000000" stroke="#000" stroke-width="1.3"/>
<rect x="390.20" y="446.50" width="127.80" height="157.60" fill="none" stroke="#000" stroke-width="1.4"/>
<line x1="386.20" y1="604.10" x2="390.20" y2="604.10" stroke="#000" stroke-width="1.2"/>
<text x="386.00" y="608.10" font-size="11.8" text-anchor="end" font-family='"Liberation Sans", sans-serif' font-weight="normal" fill="#1a1a1a" stroke="#1a1a1a" stroke-width="0.4" >0</text>
<line x1="386.20" y1="572.58" x2="390.20" y2="572.58" stroke="#000" stroke-width="1.2"/>
<text x="386.00" y="576.34" font-size="11.8" text-anchor="end" font-family='"Liberation Sans", sans-serif' font-weight="normal" fill="#1a1a1a" stroke="#1a1a1a" stroke-width="0.4" >0.04</text>
<line x1="386.20" y1="541.06" x2="390.20" y2="541.06" stroke="#000" stroke-width="1.2"/>
<text x="386.00" y="544.58" font-size="11.8" text-anchor="end" font-family='"Liberation Sans", sans-serif' font-weight="normal" fill="#1a1a1a" stroke="#1a1a1a" stroke-width="0.4" >0.08</text>
<line x1="386.20" y1="509.54" x2="390.20" y2="509.54" stroke="#000" stroke-width="1.2"/>
<text x="386.00" y="512.82" font-size="11.8" text-anchor="end" font-family='"Liberation Sans", sans-serif' font-weight="normal" fill="#1a1a1a" stroke="#1a1a1a" stroke-width="0.4" >0.12</text>
<line x1="386.20" y1="478.02" x2="390.20" y2="478.02" stroke="#000" stroke-width="1.2"/>
<text x="386.00" y="481.06" font-size="11.8" text-anchor="end" font-family='"Liberation Sans", sans-serif' font-weight="normal" fill="#1a1a1a" stroke="#1a1a1a" stroke-width="0.4" >0.16</text>
<line x1="386.20" y1="446.50" x2="390.20" y2="446.50" stroke="#000" stroke-width="1.2"/>
<text x="386.00" y="449.30" font-size="11.8" text-anchor="end" font-family='"Liberation Sans", sans-serif' font-weight="normal" fill="#1a1a1a" stroke="#1a1a1a" stroke-width="0.4" >0.20</text>
<line x1="390.20" y1="604.10" x2="390.20" y2="607.60" stroke="#000" stroke-width="1.2"/>
<line x1="411.50" y1="604.10" x2="411.50" y2="607.60" stroke="#000" stroke-width="1.2"/>
<line x1="432.80" y1="604.10" x2="432.80" y2="607.60" stroke="#000" stroke-width="1.2"/>
<line x1="454.10" y1="604.10" x2="454.10" y2="607.60" stroke="#000" stroke-width="1.2"/>
<line x1="475.40" y1="604.10" x2="475.40" y2="607.60" stroke="#000" stroke-width="1.2"/>
<line x1="496.70" y1="604.10" x2="496.70" y2="607.60" stroke="#000" stroke-width="1.2"/>
<line x1="518.00" y1="604.10" x2="518.00" y2="607.60" stroke="#000" stroke-width="1.2"/>
<text x="400.85" y="617.10" font-size="11.3" text-anchor="middle" font-family='"Liberation Sans", sans-serif' font-weight="normal" fill="#1a1a1a" stroke="#1a1a1a" stroke-width="0.4" >I</text>
<text x="422.40" y="617.10" font-size="11.3" text-anchor="middle" font-family='"Liberation Sans", sans-serif' font-weight="normal" fill="#1a1a1a" stroke="#1a1a1a" stroke-width="0.4" letter-spacing="0.5">II</text>
<text x="443.80" y="617.10" font-size="11.3" text-anchor="middle" font-family='"Liberation Sans", sans-serif' font-weight="normal" fill="#1a1a1a" stroke="#1a1a1a" stroke-width="0.4" letter-spacing="0.7">III</text>
<text x="464.75" y="617.10" font-size="11.3" text-anchor="middle" font-family='"Liberation Sans", sans-serif' font-weight="normal" fill="#1a1a1a" stroke="#1a1a1a" stroke-width="0.4" >IV</text>
<text x="486.05" y="617.10" font-size="11.3" text-anchor="middle" font-family='"Liberation Sans", sans-serif' font-weight="normal" fill="#1a1a1a" stroke="#1a1a1a" stroke-width="0.4" >V</text>
<text x="507.35" y="617.10" font-size="11.3" text-anchor="middle" font-family='"Liberation Sans", sans-serif' font-weight="normal" fill="#1a1a1a" stroke="#1a1a1a" stroke-width="0.4" >VI</text>
<text x="455.70" y="440.40" font-size="11" text-anchor="middle" font-family='"Liberation Sans", sans-serif' font-weight="normal" fill="#1a1a1a" stroke="#1a1a1a" stroke-width="0.4" textLength="39.6" lengthAdjust="spacingAndGlyphs">DNMT1</text>
<text x="501.10" y="461.80" font-size="11" text-anchor="end" font-family='"Liberation Sans", sans-serif' font-weight="normal" fill="#1a1a1a" stroke="#1a1a1a" stroke-width="0.4" textLength="61.9" lengthAdjust="spacingAndGlyphs">RN-1 (&#956;g/g)</text>
<rect x="467.50" y="469.10" width="8.00" height="7.10" fill="#ffffff" stroke="#000" stroke-width="1.1"/>
<text x="482.60" y="476.60" font-size="11.6" text-anchor="start" font-family='"Liberation Sans", sans-serif' font-weight="normal" fill="#1a1a1a" stroke="#1a1a1a" stroke-width="0.4" textLength="7.2" lengthAdjust="spacingAndGlyphs">0</text>
<rect x="467.50" y="481.60" width="8.00" height="7.00" fill="#7a7a7a" stroke="#000" stroke-width="1.1"/>
<text x="482.60" y="489.00" font-size="11.6" text-anchor="start" font-family='"Liberation Sans", sans-serif' font-weight="normal" fill="#1a1a1a" stroke="#1a1a1a" stroke-width="0.4" textLength="7.2" lengthAdjust="spacingAndGlyphs">3</text>
<rect x="467.50" y="494.20" width="8.00" height="7.10" fill="#000000" stroke="#000" stroke-width="1.1"/>
<text x="482.60" y="501.70" font-size="11.6" text-anchor="start" font-family='"Liberation Sans", sans-serif' font-weight="normal" fill="#1a1a1a" stroke="#1a1a1a" stroke-width="0.4" textLength="14.4" lengthAdjust="spacingAndGlyphs">10</text>
<text x="351.20" y="429.80" font-size="16" text-anchor="start" font-family='"Liberation Sans", sans-serif' font-weight="bold" fill="#000" stroke="#000" stroke-width="0.4" >H</text>
<text x="360.80" y="522.70" font-size="11" text-anchor="middle" font-family='"Liberation Sans", sans-serif' font-weight="normal" fill="#1a1a1a" stroke="#1a1a1a" stroke-width="0.4" transform="rotate(-90 360.80 522.70)" textLength="54.0" lengthAdjust="spacingAndGlyphs">% of Input</text>
</svg>
</body></html>
